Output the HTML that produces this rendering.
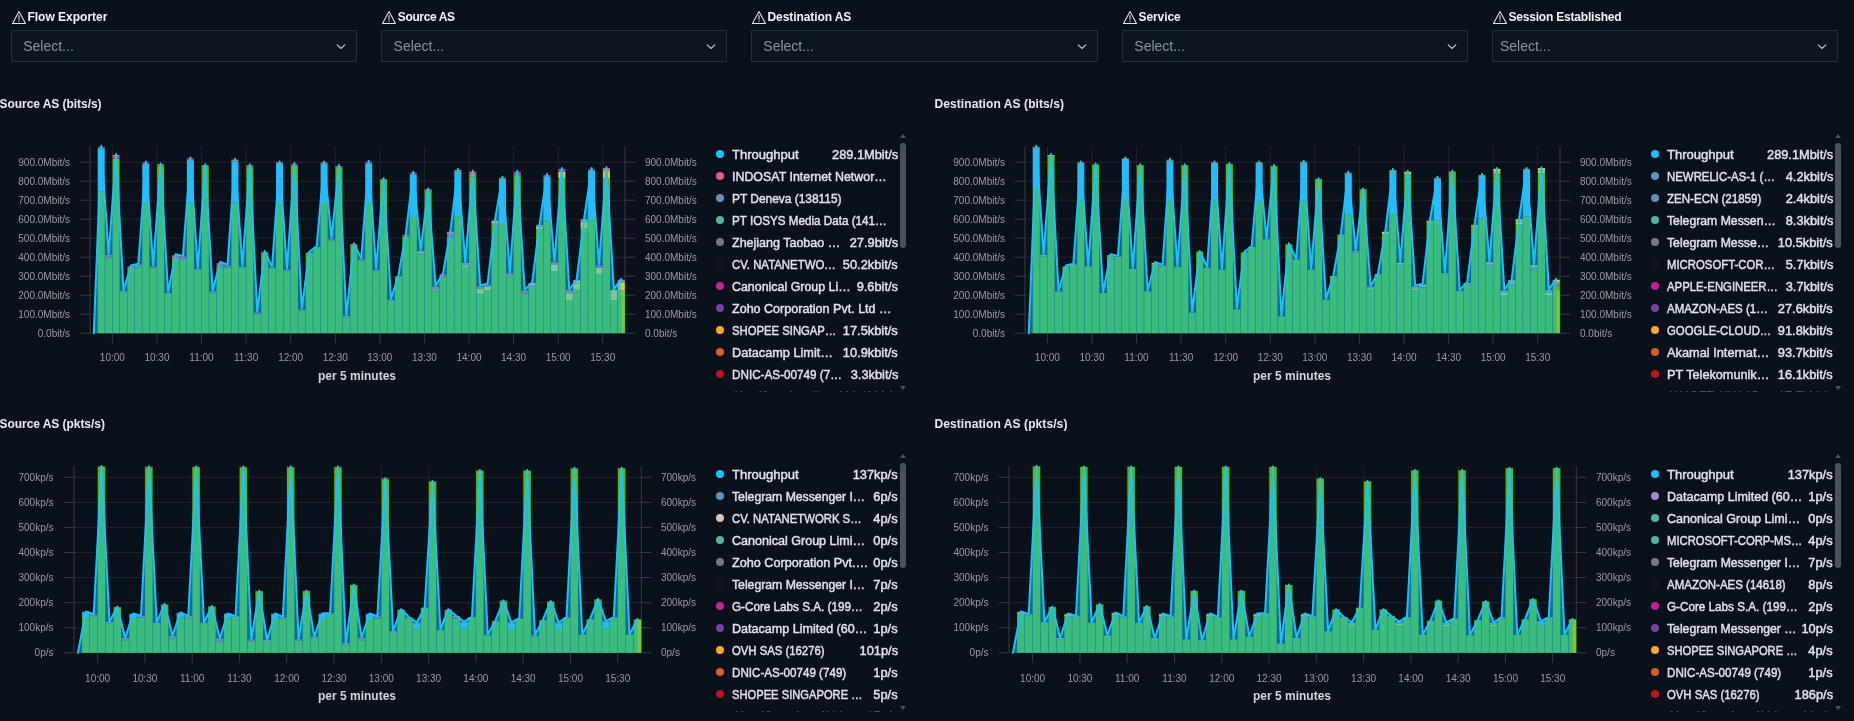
<!DOCTYPE html>
<html><head><meta charset="utf-8"><title>Dashboard</title>
<style>
html,body{margin:0;padding:0;background:#0b111a;}
body{width:1854px;height:721px;overflow:hidden;position:relative;font-family:"Liberation Sans",sans-serif;}
#wrap{position:absolute;left:0;top:0;width:1854px;height:721px;will-change:transform;}
svg.main{position:absolute;left:0;top:0;}
.ax{font-family:"Liberation Sans",sans-serif;font-size:10px;fill:#999da3;}
.xt{font-family:"Liberation Sans",sans-serif;font-size:12px;font-weight:bold;fill:#d2d6dc;}
.pt{position:absolute;font-size:12px;font-weight:bold;color:#e6ebf2;white-space:nowrap;line-height:14px;}
.ctl{position:absolute;top:0;width:346px;height:64px;}
.wi{position:absolute;left:0;top:9.5px;}
.cl{position:absolute;left:16.5px;top:10px;font-size:12px;font-weight:bold;color:#f2f5f9;white-space:nowrap;line-height:14px;}
.sel{position:absolute;left:0;top:30px;width:343.3px;height:30px;border:1px solid #27313c;background:#0d151e;border-radius:1px;}
.sel span{position:absolute;left:11.3px;top:7px;font-size:14px;line-height:16px;color:#8a95a3;}
.sel svg{position:absolute;right:9px;top:11.6px;}
.lg{position:absolute;width:194px;height:252.7px;overflow:hidden;}
.lr{position:absolute;left:0;width:194px;height:22px;line-height:22px;font-size:13px;color:#dfe4ec;white-space:nowrap;-webkit-text-stroke:0.45px #dfe4ec;}
.lr i{position:absolute;left:11px;top:6.5px;width:8px;height:8px;border-radius:50%;}
.lr .ll{position:absolute;left:27.4px;top:0;transform-origin:0 50%;display:inline-block;}
.lr .lv{position:absolute;right:1px;top:0;transform:scaleX(0.985);transform-origin:100% 50%;}
.sbt{position:absolute;width:5.5px;height:105px;border-radius:3px;background:#4b525b;}
.sau{position:absolute;width:0;height:0;border-left:3.5px solid transparent;border-right:3.5px solid transparent;border-bottom:4px solid #4d545e;}
.sad{position:absolute;width:0;height:0;border-left:3.5px solid transparent;border-right:3.5px solid transparent;border-top:4px solid #4d545e;}
</style></head><body><div id="wrap">
<div class="ctl" style="left:10.9px">
<svg class="wi" width="16" height="16" viewBox="0 0 16 16"><path d="M8 1.6 L14.5 13.4 H1.5 Z" fill="none" stroke="#e4e8ee" stroke-width="1.05" stroke-linejoin="round"/><rect x="7.3" y="5.2" width="1.4" height="4.6" fill="#aab2bd"/><rect x="7.3" y="10.6" width="1.4" height="1.3" fill="#aab2bd"/></svg>
<div class="cl" style="letter-spacing:0px">Flow Exporter</div>
<div class="sel" style="width:344.3px"><span style="left:11.3px">Select...</span><svg width="12" height="8" viewBox="0 0 12 8"><path d="M1.9 1.6 L6 5.4 L10.1 1.6" fill="none" stroke="#c9d0da" stroke-width="1.15"/></svg></div>
</div><div class="ctl" style="left:381.3px">
<svg class="wi" width="16" height="16" viewBox="0 0 16 16"><path d="M8 1.6 L14.5 13.4 H1.5 Z" fill="none" stroke="#e4e8ee" stroke-width="1.05" stroke-linejoin="round"/><rect x="7.3" y="5.2" width="1.4" height="4.6" fill="#aab2bd"/><rect x="7.3" y="10.6" width="1.4" height="1.3" fill="#aab2bd"/></svg>
<div class="cl" style="letter-spacing:-0.37px">Source AS</div>
<div class="sel" style="width:343.7px"><span style="left:11.3px">Select...</span><svg width="12" height="8" viewBox="0 0 12 8"><path d="M1.9 1.6 L6 5.4 L10.1 1.6" fill="none" stroke="#c9d0da" stroke-width="1.15"/></svg></div>
</div><div class="ctl" style="left:751px">
<svg class="wi" width="16" height="16" viewBox="0 0 16 16"><path d="M8 1.6 L14.5 13.4 H1.5 Z" fill="none" stroke="#e4e8ee" stroke-width="1.05" stroke-linejoin="round"/><rect x="7.3" y="5.2" width="1.4" height="4.6" fill="#aab2bd"/><rect x="7.3" y="10.6" width="1.4" height="1.3" fill="#aab2bd"/></svg>
<div class="cl" style="letter-spacing:-0.08px">Destination AS</div>
<div class="sel" style="width:345.2px"><span style="left:11.3px">Select...</span><svg width="12" height="8" viewBox="0 0 12 8"><path d="M1.9 1.6 L6 5.4 L10.1 1.6" fill="none" stroke="#c9d0da" stroke-width="1.15"/></svg></div>
</div><div class="ctl" style="left:1122px">
<svg class="wi" width="16" height="16" viewBox="0 0 16 16"><path d="M8 1.6 L14.5 13.4 H1.5 Z" fill="none" stroke="#e4e8ee" stroke-width="1.05" stroke-linejoin="round"/><rect x="7.3" y="5.2" width="1.4" height="4.6" fill="#aab2bd"/><rect x="7.3" y="10.6" width="1.4" height="1.3" fill="#aab2bd"/></svg>
<div class="cl" style="letter-spacing:-0.08px">Service</div>
<div class="sel" style="width:343.7px"><span style="left:11.3px">Select...</span><svg width="12" height="8" viewBox="0 0 12 8"><path d="M1.9 1.6 L6 5.4 L10.1 1.6" fill="none" stroke="#c9d0da" stroke-width="1.15"/></svg></div>
</div><div class="ctl" style="left:1492px">
<svg class="wi" width="16" height="16" viewBox="0 0 16 16"><path d="M8 1.6 L14.5 13.4 H1.5 Z" fill="none" stroke="#e4e8ee" stroke-width="1.05" stroke-linejoin="round"/><rect x="7.3" y="5.2" width="1.4" height="4.6" fill="#aab2bd"/><rect x="7.3" y="10.6" width="1.4" height="1.3" fill="#aab2bd"/></svg>
<div class="cl" style="letter-spacing:-0.2px">Session Established</div>
<div class="sel" style="width:344.0px"><span style="left:7.0px">Select...</span><svg width="12" height="8" viewBox="0 0 12 8"><path d="M1.9 1.6 L6 5.4 L10.1 1.6" fill="none" stroke="#c9d0da" stroke-width="1.15"/></svg></div>
</div>
<div class="pt" style="left:-0.5px;top:97px;letter-spacing:-0.05px">Source AS (bits/s)</div>
<div class="pt" style="left:934.5px;top:97px;letter-spacing:0.09px">Destination AS (bits/s)</div>
<div class="pt" style="left:-0.5px;top:417px;letter-spacing:-0.05px">Source AS (pkts/s)</div>
<div class="pt" style="left:934.5px;top:417px;letter-spacing:0.09px">Destination AS (pkts/s)</div>
<svg class="main" width="1854" height="721" viewBox="0 0 1854 721">
<line x1="90" x2="625" y1="333.2" y2="333.2" stroke="#20252c" stroke-width="1"/>
<line x1="80" x2="90" y1="333.2" y2="333.2" stroke="#383c42" stroke-width="1"/>
<line x1="625" x2="635" y1="333.2" y2="333.2" stroke="#383c42" stroke-width="1"/>
<text x="70" y="336.7" text-anchor="end" class="ax">0.0bit/s</text>
<text x="645" y="336.7" class="ax">0.0bit/s</text>
<line x1="90" x2="625" y1="314.2" y2="314.2" stroke="#20252c" stroke-width="1"/>
<line x1="80" x2="90" y1="314.2" y2="314.2" stroke="#383c42" stroke-width="1"/>
<line x1="625" x2="635" y1="314.2" y2="314.2" stroke="#383c42" stroke-width="1"/>
<text x="70" y="317.7" text-anchor="end" class="ax">100.0Mbit/s</text>
<text x="645" y="317.7" class="ax">100.0Mbit/s</text>
<line x1="90" x2="625" y1="295.2" y2="295.2" stroke="#20252c" stroke-width="1"/>
<line x1="80" x2="90" y1="295.2" y2="295.2" stroke="#383c42" stroke-width="1"/>
<line x1="625" x2="635" y1="295.2" y2="295.2" stroke="#383c42" stroke-width="1"/>
<text x="70" y="298.7" text-anchor="end" class="ax">200.0Mbit/s</text>
<text x="645" y="298.7" class="ax">200.0Mbit/s</text>
<line x1="90" x2="625" y1="276.2" y2="276.2" stroke="#20252c" stroke-width="1"/>
<line x1="80" x2="90" y1="276.2" y2="276.2" stroke="#383c42" stroke-width="1"/>
<line x1="625" x2="635" y1="276.2" y2="276.2" stroke="#383c42" stroke-width="1"/>
<text x="70" y="279.7" text-anchor="end" class="ax">300.0Mbit/s</text>
<text x="645" y="279.7" class="ax">300.0Mbit/s</text>
<line x1="90" x2="625" y1="257.2" y2="257.2" stroke="#20252c" stroke-width="1"/>
<line x1="80" x2="90" y1="257.2" y2="257.2" stroke="#383c42" stroke-width="1"/>
<line x1="625" x2="635" y1="257.2" y2="257.2" stroke="#383c42" stroke-width="1"/>
<text x="70" y="260.7" text-anchor="end" class="ax">400.0Mbit/s</text>
<text x="645" y="260.7" class="ax">400.0Mbit/s</text>
<line x1="90" x2="625" y1="238.2" y2="238.2" stroke="#20252c" stroke-width="1"/>
<line x1="80" x2="90" y1="238.2" y2="238.2" stroke="#383c42" stroke-width="1"/>
<line x1="625" x2="635" y1="238.2" y2="238.2" stroke="#383c42" stroke-width="1"/>
<text x="70" y="241.7" text-anchor="end" class="ax">500.0Mbit/s</text>
<text x="645" y="241.7" class="ax">500.0Mbit/s</text>
<line x1="90" x2="625" y1="219.2" y2="219.2" stroke="#20252c" stroke-width="1"/>
<line x1="80" x2="90" y1="219.2" y2="219.2" stroke="#383c42" stroke-width="1"/>
<line x1="625" x2="635" y1="219.2" y2="219.2" stroke="#383c42" stroke-width="1"/>
<text x="70" y="222.7" text-anchor="end" class="ax">600.0Mbit/s</text>
<text x="645" y="222.7" class="ax">600.0Mbit/s</text>
<line x1="90" x2="625" y1="200.2" y2="200.2" stroke="#20252c" stroke-width="1"/>
<line x1="80" x2="90" y1="200.2" y2="200.2" stroke="#383c42" stroke-width="1"/>
<line x1="625" x2="635" y1="200.2" y2="200.2" stroke="#383c42" stroke-width="1"/>
<text x="70" y="203.7" text-anchor="end" class="ax">700.0Mbit/s</text>
<text x="645" y="203.7" class="ax">700.0Mbit/s</text>
<line x1="90" x2="625" y1="181.2" y2="181.2" stroke="#20252c" stroke-width="1"/>
<line x1="80" x2="90" y1="181.2" y2="181.2" stroke="#383c42" stroke-width="1"/>
<line x1="625" x2="635" y1="181.2" y2="181.2" stroke="#383c42" stroke-width="1"/>
<text x="70" y="184.7" text-anchor="end" class="ax">800.0Mbit/s</text>
<text x="645" y="184.7" class="ax">800.0Mbit/s</text>
<line x1="90" x2="625" y1="162.2" y2="162.2" stroke="#20252c" stroke-width="1"/>
<line x1="80" x2="90" y1="162.2" y2="162.2" stroke="#383c42" stroke-width="1"/>
<line x1="625" x2="635" y1="162.2" y2="162.2" stroke="#383c42" stroke-width="1"/>
<text x="70" y="165.7" text-anchor="end" class="ax">900.0Mbit/s</text>
<text x="645" y="165.7" class="ax">900.0Mbit/s</text>
<line x1="112.36" x2="112.36" y1="146.5" y2="333.2" stroke="#20252c" stroke-width="1"/>
<line x1="112.36" x2="112.36" y1="333.2" y2="343.2" stroke="#383c42" stroke-width="1"/>
<text x="112.36" y="361.3" text-anchor="middle" class="ax">10:00</text>
<line x1="156.94" x2="156.94" y1="146.5" y2="333.2" stroke="#20252c" stroke-width="1"/>
<line x1="156.94" x2="156.94" y1="333.2" y2="343.2" stroke="#383c42" stroke-width="1"/>
<text x="156.94" y="361.3" text-anchor="middle" class="ax">10:30</text>
<line x1="201.52" x2="201.52" y1="146.5" y2="333.2" stroke="#20252c" stroke-width="1"/>
<line x1="201.52" x2="201.52" y1="333.2" y2="343.2" stroke="#383c42" stroke-width="1"/>
<text x="201.52" y="361.3" text-anchor="middle" class="ax">11:00</text>
<line x1="246.1" x2="246.1" y1="146.5" y2="333.2" stroke="#20252c" stroke-width="1"/>
<line x1="246.1" x2="246.1" y1="333.2" y2="343.2" stroke="#383c42" stroke-width="1"/>
<text x="246.1" y="361.3" text-anchor="middle" class="ax">11:30</text>
<line x1="290.68" x2="290.68" y1="146.5" y2="333.2" stroke="#20252c" stroke-width="1"/>
<line x1="290.68" x2="290.68" y1="333.2" y2="343.2" stroke="#383c42" stroke-width="1"/>
<text x="290.68" y="361.3" text-anchor="middle" class="ax">12:00</text>
<line x1="335.26" x2="335.26" y1="146.5" y2="333.2" stroke="#20252c" stroke-width="1"/>
<line x1="335.26" x2="335.26" y1="333.2" y2="343.2" stroke="#383c42" stroke-width="1"/>
<text x="335.26" y="361.3" text-anchor="middle" class="ax">12:30</text>
<line x1="379.84" x2="379.84" y1="146.5" y2="333.2" stroke="#20252c" stroke-width="1"/>
<line x1="379.84" x2="379.84" y1="333.2" y2="343.2" stroke="#383c42" stroke-width="1"/>
<text x="379.84" y="361.3" text-anchor="middle" class="ax">13:00</text>
<line x1="424.42" x2="424.42" y1="146.5" y2="333.2" stroke="#20252c" stroke-width="1"/>
<line x1="424.42" x2="424.42" y1="333.2" y2="343.2" stroke="#383c42" stroke-width="1"/>
<text x="424.42" y="361.3" text-anchor="middle" class="ax">13:30</text>
<line x1="469" x2="469" y1="146.5" y2="333.2" stroke="#20252c" stroke-width="1"/>
<line x1="469" x2="469" y1="333.2" y2="343.2" stroke="#383c42" stroke-width="1"/>
<text x="469" y="361.3" text-anchor="middle" class="ax">14:00</text>
<line x1="513.58" x2="513.58" y1="146.5" y2="333.2" stroke="#20252c" stroke-width="1"/>
<line x1="513.58" x2="513.58" y1="333.2" y2="343.2" stroke="#383c42" stroke-width="1"/>
<text x="513.58" y="361.3" text-anchor="middle" class="ax">14:30</text>
<line x1="558.16" x2="558.16" y1="146.5" y2="333.2" stroke="#20252c" stroke-width="1"/>
<line x1="558.16" x2="558.16" y1="333.2" y2="343.2" stroke="#383c42" stroke-width="1"/>
<text x="558.16" y="361.3" text-anchor="middle" class="ax">15:00</text>
<line x1="602.74" x2="602.74" y1="146.5" y2="333.2" stroke="#20252c" stroke-width="1"/>
<line x1="602.74" x2="602.74" y1="333.2" y2="343.2" stroke="#383c42" stroke-width="1"/>
<text x="602.74" y="361.3" text-anchor="middle" class="ax">15:30</text>
<line x1="90" x2="90" y1="146.5" y2="333.2" stroke="#383c42" stroke-width="1"/>
<line x1="625" x2="625" y1="146.5" y2="333.2" stroke="#383c42" stroke-width="1"/>
<rect x="97.7" y="191.27" width="7.03" height="141.93" fill="#5fb900"/>
<rect x="97.7" y="148.52" width="7.03" height="42.75" fill="#35b4f0"/>
<rect x="97.7" y="147.66" width="7.03" height="0.85" fill="#8a8f98"/>
<rect x="97.7" y="146.81" width="7.03" height="0.85" fill="#d9602a"/>
<rect x="105.13" y="258.53" width="7.03" height="74.67" fill="#5fb900"/>
<rect x="105.13" y="256.73" width="7.03" height="1.8" fill="#d9602a"/>
<rect x="105.13" y="254.92" width="7.03" height="1.8" fill="#b03fb0"/>
<rect x="112.56" y="158.78" width="7.03" height="174.42" fill="#5fb900"/>
<rect x="112.56" y="156.88" width="7.03" height="1.9" fill="#b03fb0"/>
<rect x="112.56" y="154.98" width="7.03" height="1.9" fill="#e4607f"/>
<rect x="119.99" y="292.73" width="7.03" height="40.47" fill="#5fb900"/>
<rect x="119.99" y="292.06" width="7.03" height="0.67" fill="#e4607f"/>
<rect x="119.99" y="291.4" width="7.03" height="0.67" fill="#c9cf3a"/>
<rect x="127.42" y="268.22" width="7.03" height="64.98" fill="#5fb900"/>
<rect x="127.42" y="267.37" width="7.03" height="0.85" fill="#c9cf3a"/>
<rect x="127.42" y="266.51" width="7.03" height="0.85" fill="#8a8f98"/>
<rect x="134.85" y="267.65" width="7.03" height="65.55" fill="#5fb900"/>
<rect x="134.85" y="266.13" width="7.03" height="1.52" fill="#8a8f98"/>
<rect x="134.85" y="264.61" width="7.03" height="1.52" fill="#d9602a"/>
<rect x="142.28" y="203.05" width="7.03" height="130.15" fill="#5fb900"/>
<rect x="142.28" y="164.1" width="7.03" height="38.95" fill="#35b4f0"/>
<rect x="142.28" y="163.24" width="7.03" height="0.85" fill="#d9602a"/>
<rect x="142.28" y="162.39" width="7.03" height="0.85" fill="#b03fb0"/>
<rect x="149.71" y="267.65" width="7.03" height="65.55" fill="#5fb900"/>
<rect x="149.71" y="267.08" width="7.03" height="0.57" fill="#b03fb0"/>
<rect x="149.71" y="266.51" width="7.03" height="0.57" fill="#e4607f"/>
<rect x="157.14" y="166.19" width="7.03" height="167.01" fill="#5fb900"/>
<rect x="157.14" y="165.33" width="7.03" height="0.85" fill="#e4607f"/>
<rect x="157.14" y="164.48" width="7.03" height="0.85" fill="#c9cf3a"/>
<rect x="164.57" y="294.63" width="7.03" height="38.57" fill="#5fb900"/>
<rect x="164.57" y="293.77" width="7.03" height="0.85" fill="#c9cf3a"/>
<rect x="164.57" y="292.92" width="7.03" height="0.85" fill="#8a8f98"/>
<rect x="172" y="260.05" width="7.03" height="73.15" fill="#5fb900"/>
<rect x="172" y="257.67" width="7.03" height="2.38" fill="#8a8f98"/>
<rect x="172" y="255.3" width="7.03" height="2.38" fill="#d9602a"/>
<rect x="179.43" y="260.05" width="7.03" height="73.15" fill="#5fb900"/>
<rect x="179.43" y="258.44" width="7.03" height="1.61" fill="#d9602a"/>
<rect x="179.43" y="256.82" width="7.03" height="1.61" fill="#b03fb0"/>
<rect x="186.86" y="202.29" width="7.03" height="130.91" fill="#5fb900"/>
<rect x="186.86" y="160.11" width="7.03" height="42.18" fill="#35b4f0"/>
<rect x="186.86" y="159.25" width="7.03" height="0.85" fill="#b03fb0"/>
<rect x="186.86" y="158.4" width="7.03" height="0.85" fill="#e4607f"/>
<rect x="194.29" y="269.74" width="7.03" height="63.46" fill="#5fb900"/>
<rect x="194.29" y="269.45" width="7.03" height="0.29" fill="#e4607f"/>
<rect x="194.29" y="269.17" width="7.03" height="0.29" fill="#c9cf3a"/>
<rect x="201.72" y="167.14" width="7.03" height="166.06" fill="#5fb900"/>
<rect x="201.72" y="166.19" width="7.03" height="0.95" fill="#c9cf3a"/>
<rect x="201.72" y="165.24" width="7.03" height="0.95" fill="#8a8f98"/>
<rect x="209.15" y="293.3" width="7.03" height="39.9" fill="#5fb900"/>
<rect x="209.15" y="292.35" width="7.03" height="0.95" fill="#8a8f98"/>
<rect x="209.15" y="291.4" width="7.03" height="0.95" fill="#d9602a"/>
<rect x="216.58" y="267.65" width="7.03" height="65.55" fill="#5fb900"/>
<rect x="216.58" y="265.27" width="7.03" height="2.38" fill="#d9602a"/>
<rect x="216.58" y="262.9" width="7.03" height="2.38" fill="#b03fb0"/>
<rect x="224.01" y="267.65" width="7.03" height="65.55" fill="#5fb900"/>
<rect x="224.01" y="266.7" width="7.03" height="0.95" fill="#b03fb0"/>
<rect x="224.01" y="265.75" width="7.03" height="0.95" fill="#e4607f"/>
<rect x="231.44" y="202.29" width="7.03" height="130.91" fill="#5fb900"/>
<rect x="231.44" y="161.44" width="7.03" height="40.85" fill="#35b4f0"/>
<rect x="231.44" y="160.58" width="7.03" height="0.85" fill="#e4607f"/>
<rect x="231.44" y="159.73" width="7.03" height="0.85" fill="#c9cf3a"/>
<rect x="238.87" y="268.22" width="7.03" height="64.98" fill="#5fb900"/>
<rect x="238.87" y="267.65" width="7.03" height="0.57" fill="#c9cf3a"/>
<rect x="238.87" y="267.08" width="7.03" height="0.57" fill="#8a8f98"/>
<rect x="246.3" y="167.14" width="7.03" height="166.06" fill="#5fb900"/>
<rect x="246.3" y="166.19" width="7.03" height="0.95" fill="#8a8f98"/>
<rect x="246.3" y="165.24" width="7.03" height="0.95" fill="#d9602a"/>
<rect x="253.73" y="314.2" width="7.03" height="19" fill="#5fb900"/>
<rect x="253.73" y="313.44" width="7.03" height="0.76" fill="#d9602a"/>
<rect x="253.73" y="312.68" width="7.03" height="0.76" fill="#b03fb0"/>
<rect x="261.16" y="252.26" width="7.03" height="80.94" fill="#5fb900"/>
<rect x="261.16" y="252.07" width="7.03" height="0.19" fill="#b03fb0"/>
<rect x="261.16" y="251.88" width="7.03" height="0.19" fill="#e4607f"/>
<rect x="268.59" y="268.79" width="7.03" height="64.41" fill="#5fb900"/>
<rect x="268.59" y="268.31" width="7.03" height="0.47" fill="#e4607f"/>
<rect x="268.59" y="267.84" width="7.03" height="0.47" fill="#c9cf3a"/>
<rect x="276.02" y="203.05" width="7.03" height="130.15" fill="#5fb900"/>
<rect x="276.02" y="164.1" width="7.03" height="38.95" fill="#35b4f0"/>
<rect x="276.02" y="163.24" width="7.03" height="0.85" fill="#c9cf3a"/>
<rect x="276.02" y="162.39" width="7.03" height="0.85" fill="#8a8f98"/>
<rect x="283.45" y="271.07" width="7.03" height="62.13" fill="#5fb900"/>
<rect x="283.45" y="270.4" width="7.03" height="0.67" fill="#8a8f98"/>
<rect x="283.45" y="269.74" width="7.03" height="0.67" fill="#d9602a"/>
<rect x="290.88" y="165.62" width="7.03" height="167.58" fill="#5fb900"/>
<rect x="290.88" y="164.76" width="7.03" height="0.85" fill="#d9602a"/>
<rect x="290.88" y="163.91" width="7.03" height="0.85" fill="#b03fb0"/>
<rect x="298.31" y="310.4" width="7.03" height="22.8" fill="#5fb900"/>
<rect x="298.31" y="309.93" width="7.03" height="0.47" fill="#b03fb0"/>
<rect x="298.31" y="309.45" width="7.03" height="0.47" fill="#e4607f"/>
<rect x="305.74" y="253.02" width="7.03" height="80.18" fill="#5fb900"/>
<rect x="305.74" y="252.83" width="7.03" height="0.19" fill="#e4607f"/>
<rect x="305.74" y="252.64" width="7.03" height="0.19" fill="#c9cf3a"/>
<rect x="313.17" y="247.51" width="7.03" height="85.69" fill="#5fb900"/>
<rect x="313.17" y="247.32" width="7.03" height="0.19" fill="#c9cf3a"/>
<rect x="313.17" y="247.13" width="7.03" height="0.19" fill="#8a8f98"/>
<rect x="320.6" y="203.05" width="7.03" height="130.15" fill="#5fb900"/>
<rect x="320.6" y="164.1" width="7.03" height="38.95" fill="#35b4f0"/>
<rect x="320.6" y="163.24" width="7.03" height="0.85" fill="#8a8f98"/>
<rect x="320.6" y="162.39" width="7.03" height="0.85" fill="#d9602a"/>
<rect x="328.03" y="241.05" width="7.03" height="92.15" fill="#5fb900"/>
<rect x="328.03" y="240.19" width="7.03" height="0.85" fill="#d9602a"/>
<rect x="328.03" y="239.34" width="7.03" height="0.85" fill="#b03fb0"/>
<rect x="335.46" y="167.14" width="7.03" height="166.06" fill="#5fb900"/>
<rect x="335.46" y="166.57" width="7.03" height="0.57" fill="#b03fb0"/>
<rect x="335.46" y="166" width="7.03" height="0.57" fill="#e4607f"/>
<rect x="342.89" y="318.19" width="7.03" height="15.01" fill="#5fb900"/>
<rect x="342.89" y="317.33" width="7.03" height="0.85" fill="#e4607f"/>
<rect x="342.89" y="316.48" width="7.03" height="0.85" fill="#c9cf3a"/>
<rect x="350.32" y="245.61" width="7.03" height="87.59" fill="#5fb900"/>
<rect x="350.32" y="244.94" width="7.03" height="0.67" fill="#c9cf3a"/>
<rect x="350.32" y="244.28" width="7.03" height="0.67" fill="#8a8f98"/>
<rect x="357.75" y="260.62" width="7.03" height="72.58" fill="#5fb900"/>
<rect x="357.75" y="260.05" width="7.03" height="0.57" fill="#8a8f98"/>
<rect x="357.75" y="259.48" width="7.03" height="0.57" fill="#d9602a"/>
<rect x="365.18" y="203.05" width="7.03" height="130.15" fill="#5fb900"/>
<rect x="365.18" y="163.34" width="7.03" height="39.71" fill="#35b4f0"/>
<rect x="365.18" y="162.48" width="7.03" height="0.85" fill="#d9602a"/>
<rect x="365.18" y="161.63" width="7.03" height="0.85" fill="#b03fb0"/>
<rect x="372.61" y="271.07" width="7.03" height="62.13" fill="#5fb900"/>
<rect x="372.61" y="270.4" width="7.03" height="0.67" fill="#b03fb0"/>
<rect x="372.61" y="269.74" width="7.03" height="0.67" fill="#e4607f"/>
<rect x="380.04" y="179.49" width="7.03" height="153.71" fill="#5fb900"/>
<rect x="380.04" y="179.3" width="7.03" height="0.19" fill="#e4607f"/>
<rect x="380.04" y="179.11" width="7.03" height="0.19" fill="#c9cf3a"/>
<rect x="387.47" y="301.66" width="7.03" height="31.54" fill="#5fb900"/>
<rect x="387.47" y="300.71" width="7.03" height="0.95" fill="#c9cf3a"/>
<rect x="387.47" y="299.76" width="7.03" height="0.95" fill="#8a8f98"/>
<rect x="394.9" y="276.58" width="7.03" height="56.62" fill="#5fb900"/>
<rect x="394.9" y="276.39" width="7.03" height="0.19" fill="#8a8f98"/>
<rect x="394.9" y="276.2" width="7.03" height="0.19" fill="#d9602a"/>
<rect x="402.33" y="236.49" width="7.03" height="96.71" fill="#5fb900"/>
<rect x="402.33" y="235.54" width="7.03" height="0.95" fill="#d9602a"/>
<rect x="402.33" y="234.59" width="7.03" height="0.95" fill="#b03fb0"/>
<rect x="409.76" y="216.92" width="7.03" height="116.28" fill="#5fb900"/>
<rect x="409.76" y="174.36" width="7.03" height="42.56" fill="#35b4f0"/>
<rect x="409.76" y="173.5" width="7.03" height="0.85" fill="#b03fb0"/>
<rect x="409.76" y="172.65" width="7.03" height="0.85" fill="#e4607f"/>
<rect x="417.19" y="254.35" width="7.03" height="78.85" fill="#5fb900"/>
<rect x="417.19" y="252.83" width="7.03" height="1.52" fill="#e4607f"/>
<rect x="417.19" y="251.31" width="7.03" height="1.52" fill="#c9cf3a"/>
<rect x="424.62" y="191.46" width="7.03" height="141.74" fill="#5fb900"/>
<rect x="424.62" y="190.41" width="7.03" height="1.04" fill="#c9cf3a"/>
<rect x="424.62" y="189.37" width="7.03" height="1.04" fill="#8a8f98"/>
<rect x="432.05" y="291.4" width="7.03" height="41.8" fill="#5fb900"/>
<rect x="432.05" y="289.02" width="7.03" height="2.38" fill="#8a8f98"/>
<rect x="432.05" y="286.65" width="7.03" height="2.38" fill="#d9602a"/>
<rect x="439.48" y="278.1" width="7.03" height="55.1" fill="#5fb900"/>
<rect x="439.48" y="276.2" width="7.03" height="1.9" fill="#d9602a"/>
<rect x="439.48" y="274.3" width="7.03" height="1.9" fill="#b03fb0"/>
<rect x="446.91" y="237.25" width="7.03" height="95.95" fill="#5fb900"/>
<rect x="446.91" y="234.5" width="7.03" height="2.75" fill="#b03fb0"/>
<rect x="446.91" y="231.74" width="7.03" height="2.75" fill="#e4607f"/>
<rect x="454.34" y="216.16" width="7.03" height="117.04" fill="#5fb900"/>
<rect x="454.34" y="171.7" width="7.03" height="44.46" fill="#35b4f0"/>
<rect x="454.34" y="170.84" width="7.03" height="0.85" fill="#e4607f"/>
<rect x="454.34" y="169.99" width="7.03" height="0.85" fill="#c9cf3a"/>
<rect x="461.77" y="267.65" width="7.03" height="65.55" fill="#5fb900"/>
<rect x="461.77" y="265.27" width="7.03" height="2.38" fill="#c9cf3a"/>
<rect x="461.77" y="262.9" width="7.03" height="2.38" fill="#8a8f98"/>
<rect x="469.2" y="176.83" width="7.03" height="156.37" fill="#5fb900"/>
<rect x="469.2" y="174.26" width="7.03" height="2.56" fill="#8a8f98"/>
<rect x="469.2" y="171.7" width="7.03" height="2.56" fill="#d9602a"/>
<rect x="476.63" y="293.87" width="7.03" height="39.33" fill="#5fb900"/>
<rect x="476.63" y="288.68" width="7.03" height="5.19" fill="#e3cc2c"/>
<rect x="476.63" y="286.46" width="7.03" height="2.22" fill="#d9602a"/>
<rect x="484.06" y="290.45" width="7.03" height="42.75" fill="#5fb900"/>
<rect x="484.06" y="286.33" width="7.03" height="4.12" fill="#e3cc2c"/>
<rect x="484.06" y="284.56" width="7.03" height="1.77" fill="#b03fb0"/>
<rect x="491.49" y="225.28" width="7.03" height="107.92" fill="#5fb900"/>
<rect x="491.49" y="223" width="7.03" height="2.28" fill="#e4607f"/>
<rect x="491.49" y="220.72" width="7.03" height="2.28" fill="#c9cf3a"/>
<rect x="498.92" y="223" width="7.03" height="110.2" fill="#5fb900"/>
<rect x="498.92" y="179.49" width="7.03" height="43.51" fill="#35b4f0"/>
<rect x="498.92" y="178.63" width="7.03" height="0.85" fill="#c9cf3a"/>
<rect x="498.92" y="177.78" width="7.03" height="0.85" fill="#8a8f98"/>
<rect x="506.35" y="276.58" width="7.03" height="56.62" fill="#5fb900"/>
<rect x="506.35" y="274.96" width="7.03" height="1.61" fill="#8a8f98"/>
<rect x="506.35" y="273.35" width="7.03" height="1.61" fill="#d9602a"/>
<rect x="513.78" y="175.31" width="7.03" height="157.89" fill="#5fb900"/>
<rect x="513.78" y="173.5" width="7.03" height="1.8" fill="#d9602a"/>
<rect x="513.78" y="171.7" width="7.03" height="1.8" fill="#b03fb0"/>
<rect x="521.21" y="293.87" width="7.03" height="39.33" fill="#5fb900"/>
<rect x="521.21" y="292.35" width="7.03" height="1.52" fill="#b03fb0"/>
<rect x="521.21" y="290.83" width="7.03" height="1.52" fill="#e4607f"/>
<rect x="528.64" y="286.84" width="7.03" height="46.36" fill="#5fb900"/>
<rect x="528.64" y="284.94" width="7.03" height="1.9" fill="#e4607f"/>
<rect x="528.64" y="283.04" width="7.03" height="1.9" fill="#c9cf3a"/>
<rect x="536.07" y="228.89" width="7.03" height="104.31" fill="#5fb900"/>
<rect x="536.07" y="226.89" width="7.03" height="2" fill="#c9cf3a"/>
<rect x="536.07" y="224.9" width="7.03" height="2" fill="#8a8f98"/>
<rect x="543.5" y="220.53" width="7.03" height="112.67" fill="#5fb900"/>
<rect x="543.5" y="176.64" width="7.03" height="43.89" fill="#35b4f0"/>
<rect x="543.5" y="175.78" width="7.03" height="0.85" fill="#8a8f98"/>
<rect x="543.5" y="174.93" width="7.03" height="0.85" fill="#d9602a"/>
<rect x="550.93" y="271.07" width="7.03" height="62.13" fill="#5fb900"/>
<rect x="550.93" y="264.95" width="7.03" height="6.12" fill="#e3cc2c"/>
<rect x="550.93" y="262.33" width="7.03" height="2.62" fill="#d9602a"/>
<rect x="558.36" y="178.16" width="7.03" height="155.04" fill="#5fb900"/>
<rect x="558.36" y="171.64" width="7.03" height="6.52" fill="#e3cc2c"/>
<rect x="558.36" y="168.85" width="7.03" height="2.79" fill="#b03fb0"/>
<rect x="565.79" y="300.14" width="7.03" height="33.06" fill="#5fb900"/>
<rect x="565.79" y="293.36" width="7.03" height="6.78" fill="#e3cc2c"/>
<rect x="565.79" y="290.45" width="7.03" height="2.91" fill="#e4607f"/>
<rect x="573.22" y="289.88" width="7.03" height="43.32" fill="#5fb900"/>
<rect x="573.22" y="283.23" width="7.03" height="6.65" fill="#e3cc2c"/>
<rect x="573.22" y="280.38" width="7.03" height="2.85" fill="#c9cf3a"/>
<rect x="580.65" y="228.7" width="7.03" height="104.5" fill="#5fb900"/>
<rect x="580.65" y="222.05" width="7.03" height="6.65" fill="#e3cc2c"/>
<rect x="580.65" y="219.2" width="7.03" height="2.85" fill="#8a8f98"/>
<rect x="588.08" y="219.01" width="7.03" height="114.19" fill="#5fb900"/>
<rect x="588.08" y="170.56" width="7.03" height="48.45" fill="#35b4f0"/>
<rect x="588.08" y="169.7" width="7.03" height="0.85" fill="#d9602a"/>
<rect x="588.08" y="168.85" width="7.03" height="0.85" fill="#b03fb0"/>
<rect x="595.51" y="273.92" width="7.03" height="59.28" fill="#5fb900"/>
<rect x="595.51" y="267.8" width="7.03" height="6.12" fill="#e3cc2c"/>
<rect x="595.51" y="265.18" width="7.03" height="2.62" fill="#b03fb0"/>
<rect x="602.94" y="178.16" width="7.03" height="155.04" fill="#5fb900"/>
<rect x="602.94" y="171.11" width="7.03" height="7.05" fill="#e3cc2c"/>
<rect x="602.94" y="168.09" width="7.03" height="3.02" fill="#e4607f"/>
<rect x="610.37" y="300.14" width="7.03" height="33.06" fill="#5fb900"/>
<rect x="610.37" y="293.09" width="7.03" height="7.05" fill="#e3cc2c"/>
<rect x="610.37" y="290.07" width="7.03" height="3.02" fill="#c9cf3a"/>
<rect x="617.8" y="290.45" width="7.03" height="42.75" fill="#5fb900"/>
<rect x="617.8" y="283" width="7.03" height="7.45" fill="#e3cc2c"/>
<rect x="617.8" y="279.81" width="7.03" height="3.19" fill="#8a8f98"/>
<polygon points="93.78,333.2 93.78,333.2 101.21,145.86 108.64,253.97 116.07,154.03 123.5,290.45 130.94,265.56 138.37,263.66 145.79,161.44 153.22,265.56 160.65,163.53 168.08,291.97 175.51,254.35 182.94,255.87 190.38,157.45 197.81,268.22 205.23,164.29 212.66,290.45 220.09,261.95 227.52,264.8 234.95,158.78 242.38,266.13 249.81,164.29 257.25,311.73 264.67,250.93 272.11,266.89 279.53,161.44 286.96,268.79 294.39,162.96 301.82,308.5 309.25,251.69 316.68,246.18 324.12,161.44 331.54,238.39 338.98,165.05 346.4,315.53 353.83,243.33 361.26,258.53 368.69,160.68 376.12,268.79 383.56,178.16 390.98,298.81 398.41,275.25 405.84,233.64 413.27,171.7 420.7,250.36 428.13,188.42 435.56,285.7 443,273.35 450.42,230.79 457.85,169.04 465.28,261.95 472.71,170.75 480.14,285.51 487.57,283.61 495,219.77 502.44,176.83 509.86,272.4 517.29,170.75 524.72,289.88 532.15,282.09 539.59,223.95 547.01,173.98 554.44,261.38 561.88,167.9 569.3,289.5 576.73,279.43 584.16,218.25 591.6,167.9 599.02,264.23 606.45,167.14 613.88,289.12 621.32,278.86 621.32,333.2" fill="#19c2ff" fill-opacity="0.5"/>
<polyline points="93.78,333.2 101.21,145.86 108.64,253.97 116.07,154.03 123.5,290.45 130.94,265.56 138.37,263.66 145.79,161.44 153.22,265.56 160.65,163.53 168.08,291.97 175.51,254.35 182.94,255.87 190.38,157.45 197.81,268.22 205.23,164.29 212.66,290.45 220.09,261.95 227.52,264.8 234.95,158.78 242.38,266.13 249.81,164.29 257.25,311.73 264.67,250.93 272.11,266.89 279.53,161.44 286.96,268.79 294.39,162.96 301.82,308.5 309.25,251.69 316.68,246.18 324.12,161.44 331.54,238.39 338.98,165.05 346.4,315.53 353.83,243.33 361.26,258.53 368.69,160.68 376.12,268.79 383.56,178.16 390.98,298.81 398.41,275.25 405.84,233.64 413.27,171.7 420.7,250.36 428.13,188.42 435.56,285.7 443,273.35 450.42,230.79 457.85,169.04 465.28,261.95 472.71,170.75 480.14,285.51 487.57,283.61 495,219.77 502.44,176.83 509.86,272.4 517.29,170.75 524.72,289.88 532.15,282.09 539.59,223.95 547.01,173.98 554.44,261.38 561.88,167.9 569.3,289.5 576.73,279.43 584.16,218.25 591.6,167.9 599.02,264.23 606.45,167.14 613.88,289.12 621.32,278.86" fill="none" stroke="#19c2ff" stroke-width="2.0" stroke-linejoin="round" stroke-linecap="round"/>
<rect x="621.32" y="290.45" width="3.51" height="42.75" fill="#78c63a"/>
<text x="357" y="379.8" text-anchor="middle" class="xt">per 5 minutes</text>
<line x1="1025" x2="1560" y1="333.2" y2="333.2" stroke="#20252c" stroke-width="1"/>
<line x1="1015" x2="1025" y1="333.2" y2="333.2" stroke="#383c42" stroke-width="1"/>
<line x1="1560" x2="1570" y1="333.2" y2="333.2" stroke="#383c42" stroke-width="1"/>
<text x="1005" y="336.7" text-anchor="end" class="ax">0.0bit/s</text>
<text x="1580" y="336.7" class="ax">0.0bit/s</text>
<line x1="1025" x2="1560" y1="314.2" y2="314.2" stroke="#20252c" stroke-width="1"/>
<line x1="1015" x2="1025" y1="314.2" y2="314.2" stroke="#383c42" stroke-width="1"/>
<line x1="1560" x2="1570" y1="314.2" y2="314.2" stroke="#383c42" stroke-width="1"/>
<text x="1005" y="317.7" text-anchor="end" class="ax">100.0Mbit/s</text>
<text x="1580" y="317.7" class="ax">100.0Mbit/s</text>
<line x1="1025" x2="1560" y1="295.2" y2="295.2" stroke="#20252c" stroke-width="1"/>
<line x1="1015" x2="1025" y1="295.2" y2="295.2" stroke="#383c42" stroke-width="1"/>
<line x1="1560" x2="1570" y1="295.2" y2="295.2" stroke="#383c42" stroke-width="1"/>
<text x="1005" y="298.7" text-anchor="end" class="ax">200.0Mbit/s</text>
<text x="1580" y="298.7" class="ax">200.0Mbit/s</text>
<line x1="1025" x2="1560" y1="276.2" y2="276.2" stroke="#20252c" stroke-width="1"/>
<line x1="1015" x2="1025" y1="276.2" y2="276.2" stroke="#383c42" stroke-width="1"/>
<line x1="1560" x2="1570" y1="276.2" y2="276.2" stroke="#383c42" stroke-width="1"/>
<text x="1005" y="279.7" text-anchor="end" class="ax">300.0Mbit/s</text>
<text x="1580" y="279.7" class="ax">300.0Mbit/s</text>
<line x1="1025" x2="1560" y1="257.2" y2="257.2" stroke="#20252c" stroke-width="1"/>
<line x1="1015" x2="1025" y1="257.2" y2="257.2" stroke="#383c42" stroke-width="1"/>
<line x1="1560" x2="1570" y1="257.2" y2="257.2" stroke="#383c42" stroke-width="1"/>
<text x="1005" y="260.7" text-anchor="end" class="ax">400.0Mbit/s</text>
<text x="1580" y="260.7" class="ax">400.0Mbit/s</text>
<line x1="1025" x2="1560" y1="238.2" y2="238.2" stroke="#20252c" stroke-width="1"/>
<line x1="1015" x2="1025" y1="238.2" y2="238.2" stroke="#383c42" stroke-width="1"/>
<line x1="1560" x2="1570" y1="238.2" y2="238.2" stroke="#383c42" stroke-width="1"/>
<text x="1005" y="241.7" text-anchor="end" class="ax">500.0Mbit/s</text>
<text x="1580" y="241.7" class="ax">500.0Mbit/s</text>
<line x1="1025" x2="1560" y1="219.2" y2="219.2" stroke="#20252c" stroke-width="1"/>
<line x1="1015" x2="1025" y1="219.2" y2="219.2" stroke="#383c42" stroke-width="1"/>
<line x1="1560" x2="1570" y1="219.2" y2="219.2" stroke="#383c42" stroke-width="1"/>
<text x="1005" y="222.7" text-anchor="end" class="ax">600.0Mbit/s</text>
<text x="1580" y="222.7" class="ax">600.0Mbit/s</text>
<line x1="1025" x2="1560" y1="200.2" y2="200.2" stroke="#20252c" stroke-width="1"/>
<line x1="1015" x2="1025" y1="200.2" y2="200.2" stroke="#383c42" stroke-width="1"/>
<line x1="1560" x2="1570" y1="200.2" y2="200.2" stroke="#383c42" stroke-width="1"/>
<text x="1005" y="203.7" text-anchor="end" class="ax">700.0Mbit/s</text>
<text x="1580" y="203.7" class="ax">700.0Mbit/s</text>
<line x1="1025" x2="1560" y1="181.2" y2="181.2" stroke="#20252c" stroke-width="1"/>
<line x1="1015" x2="1025" y1="181.2" y2="181.2" stroke="#383c42" stroke-width="1"/>
<line x1="1560" x2="1570" y1="181.2" y2="181.2" stroke="#383c42" stroke-width="1"/>
<text x="1005" y="184.7" text-anchor="end" class="ax">800.0Mbit/s</text>
<text x="1580" y="184.7" class="ax">800.0Mbit/s</text>
<line x1="1025" x2="1560" y1="162.2" y2="162.2" stroke="#20252c" stroke-width="1"/>
<line x1="1015" x2="1025" y1="162.2" y2="162.2" stroke="#383c42" stroke-width="1"/>
<line x1="1560" x2="1570" y1="162.2" y2="162.2" stroke="#383c42" stroke-width="1"/>
<text x="1005" y="165.7" text-anchor="end" class="ax">900.0Mbit/s</text>
<text x="1580" y="165.7" class="ax">900.0Mbit/s</text>
<line x1="1047.36" x2="1047.36" y1="146.5" y2="333.2" stroke="#20252c" stroke-width="1"/>
<line x1="1047.36" x2="1047.36" y1="333.2" y2="343.2" stroke="#383c42" stroke-width="1"/>
<text x="1047.36" y="361.3" text-anchor="middle" class="ax">10:00</text>
<line x1="1091.94" x2="1091.94" y1="146.5" y2="333.2" stroke="#20252c" stroke-width="1"/>
<line x1="1091.94" x2="1091.94" y1="333.2" y2="343.2" stroke="#383c42" stroke-width="1"/>
<text x="1091.94" y="361.3" text-anchor="middle" class="ax">10:30</text>
<line x1="1136.52" x2="1136.52" y1="146.5" y2="333.2" stroke="#20252c" stroke-width="1"/>
<line x1="1136.52" x2="1136.52" y1="333.2" y2="343.2" stroke="#383c42" stroke-width="1"/>
<text x="1136.52" y="361.3" text-anchor="middle" class="ax">11:00</text>
<line x1="1181.1" x2="1181.1" y1="146.5" y2="333.2" stroke="#20252c" stroke-width="1"/>
<line x1="1181.1" x2="1181.1" y1="333.2" y2="343.2" stroke="#383c42" stroke-width="1"/>
<text x="1181.1" y="361.3" text-anchor="middle" class="ax">11:30</text>
<line x1="1225.68" x2="1225.68" y1="146.5" y2="333.2" stroke="#20252c" stroke-width="1"/>
<line x1="1225.68" x2="1225.68" y1="333.2" y2="343.2" stroke="#383c42" stroke-width="1"/>
<text x="1225.68" y="361.3" text-anchor="middle" class="ax">12:00</text>
<line x1="1270.26" x2="1270.26" y1="146.5" y2="333.2" stroke="#20252c" stroke-width="1"/>
<line x1="1270.26" x2="1270.26" y1="333.2" y2="343.2" stroke="#383c42" stroke-width="1"/>
<text x="1270.26" y="361.3" text-anchor="middle" class="ax">12:30</text>
<line x1="1314.84" x2="1314.84" y1="146.5" y2="333.2" stroke="#20252c" stroke-width="1"/>
<line x1="1314.84" x2="1314.84" y1="333.2" y2="343.2" stroke="#383c42" stroke-width="1"/>
<text x="1314.84" y="361.3" text-anchor="middle" class="ax">13:00</text>
<line x1="1359.42" x2="1359.42" y1="146.5" y2="333.2" stroke="#20252c" stroke-width="1"/>
<line x1="1359.42" x2="1359.42" y1="333.2" y2="343.2" stroke="#383c42" stroke-width="1"/>
<text x="1359.42" y="361.3" text-anchor="middle" class="ax">13:30</text>
<line x1="1404" x2="1404" y1="146.5" y2="333.2" stroke="#20252c" stroke-width="1"/>
<line x1="1404" x2="1404" y1="333.2" y2="343.2" stroke="#383c42" stroke-width="1"/>
<text x="1404" y="361.3" text-anchor="middle" class="ax">14:00</text>
<line x1="1448.58" x2="1448.58" y1="146.5" y2="333.2" stroke="#20252c" stroke-width="1"/>
<line x1="1448.58" x2="1448.58" y1="333.2" y2="343.2" stroke="#383c42" stroke-width="1"/>
<text x="1448.58" y="361.3" text-anchor="middle" class="ax">14:30</text>
<line x1="1493.16" x2="1493.16" y1="146.5" y2="333.2" stroke="#20252c" stroke-width="1"/>
<line x1="1493.16" x2="1493.16" y1="333.2" y2="343.2" stroke="#383c42" stroke-width="1"/>
<text x="1493.16" y="361.3" text-anchor="middle" class="ax">15:00</text>
<line x1="1537.74" x2="1537.74" y1="146.5" y2="333.2" stroke="#20252c" stroke-width="1"/>
<line x1="1537.74" x2="1537.74" y1="333.2" y2="343.2" stroke="#383c42" stroke-width="1"/>
<text x="1537.74" y="361.3" text-anchor="middle" class="ax">15:30</text>
<line x1="1025" x2="1025" y1="146.5" y2="333.2" stroke="#383c42" stroke-width="1"/>
<line x1="1560" x2="1560" y1="146.5" y2="333.2" stroke="#383c42" stroke-width="1"/>
<rect x="1032.7" y="188.99" width="7.03" height="144.21" fill="#5fb900"/>
<rect x="1032.7" y="148.52" width="7.03" height="40.47" fill="#35b4f0"/>
<rect x="1032.7" y="147.66" width="7.03" height="0.85" fill="#d6d23a"/>
<rect x="1032.7" y="146.81" width="7.03" height="0.85" fill="#8a8f98"/>
<rect x="1040.13" y="256.48" width="7.03" height="76.72" fill="#5fb900"/>
<rect x="1040.13" y="255.7" width="7.03" height="0.78" fill="#8a8f98"/>
<rect x="1040.13" y="254.92" width="7.03" height="0.78" fill="#c9cf3a"/>
<rect x="1047.56" y="156.64" width="7.03" height="176.56" fill="#5fb900"/>
<rect x="1047.56" y="155.81" width="7.03" height="0.83" fill="#c9cf3a"/>
<rect x="1047.56" y="154.98" width="7.03" height="0.83" fill="#d6d23a"/>
<rect x="1054.99" y="291.7" width="7.03" height="41.5" fill="#5fb900"/>
<rect x="1054.99" y="291.55" width="7.03" height="0.15" fill="#d6d23a"/>
<rect x="1054.99" y="291.4" width="7.03" height="0.15" fill="#8a8f98"/>
<rect x="1062.42" y="267.02" width="7.03" height="66.18" fill="#5fb900"/>
<rect x="1062.42" y="266.77" width="7.03" height="0.26" fill="#8a8f98"/>
<rect x="1062.42" y="266.51" width="7.03" height="0.26" fill="#c9cf3a"/>
<rect x="1069.85" y="265.85" width="7.03" height="67.35" fill="#5fb900"/>
<rect x="1069.85" y="265.23" width="7.03" height="0.62" fill="#c9cf3a"/>
<rect x="1069.85" y="264.61" width="7.03" height="0.62" fill="#d6d23a"/>
<rect x="1077.28" y="200.77" width="7.03" height="132.43" fill="#5fb900"/>
<rect x="1077.28" y="164.1" width="7.03" height="36.67" fill="#35b4f0"/>
<rect x="1077.28" y="163.24" width="7.03" height="0.85" fill="#d6d23a"/>
<rect x="1077.28" y="162.39" width="7.03" height="0.85" fill="#8a8f98"/>
<rect x="1084.71" y="266.71" width="7.03" height="66.49" fill="#5fb900"/>
<rect x="1084.71" y="266.61" width="7.03" height="0.1" fill="#8a8f98"/>
<rect x="1084.71" y="266.51" width="7.03" height="0.1" fill="#c9cf3a"/>
<rect x="1092.14" y="164.99" width="7.03" height="168.21" fill="#5fb900"/>
<rect x="1092.14" y="164.74" width="7.03" height="0.26" fill="#c9cf3a"/>
<rect x="1092.14" y="164.48" width="7.03" height="0.26" fill="#d6d23a"/>
<rect x="1099.57" y="293.43" width="7.03" height="39.77" fill="#5fb900"/>
<rect x="1099.57" y="293.18" width="7.03" height="0.26" fill="#d6d23a"/>
<rect x="1099.57" y="292.92" width="7.03" height="0.26" fill="#8a8f98"/>
<rect x="1107" y="257.49" width="7.03" height="75.71" fill="#5fb900"/>
<rect x="1107" y="256.39" width="7.03" height="1.09" fill="#8a8f98"/>
<rect x="1107" y="255.3" width="7.03" height="1.09" fill="#c9cf3a"/>
<rect x="1114.43" y="258.17" width="7.03" height="75.03" fill="#5fb900"/>
<rect x="1114.43" y="257.49" width="7.03" height="0.67" fill="#c9cf3a"/>
<rect x="1114.43" y="256.82" width="7.03" height="0.67" fill="#d6d23a"/>
<rect x="1121.86" y="200.01" width="7.03" height="133.19" fill="#5fb900"/>
<rect x="1121.86" y="160.11" width="7.03" height="39.9" fill="#35b4f0"/>
<rect x="1121.86" y="159.25" width="7.03" height="0.85" fill="#d6d23a"/>
<rect x="1121.86" y="158.4" width="7.03" height="0.85" fill="#8a8f98"/>
<rect x="1129.29" y="269.06" width="7.03" height="64.14" fill="#5fb900"/>
<rect x="1136.72" y="165.86" width="7.03" height="167.34" fill="#5fb900"/>
<rect x="1136.72" y="165.55" width="7.03" height="0.31" fill="#c9cf3a"/>
<rect x="1136.72" y="165.24" width="7.03" height="0.31" fill="#d6d23a"/>
<rect x="1144.15" y="292.02" width="7.03" height="41.18" fill="#5fb900"/>
<rect x="1144.15" y="291.71" width="7.03" height="0.31" fill="#d6d23a"/>
<rect x="1144.15" y="291.4" width="7.03" height="0.31" fill="#8a8f98"/>
<rect x="1151.58" y="265.08" width="7.03" height="68.12" fill="#5fb900"/>
<rect x="1151.58" y="263.99" width="7.03" height="1.09" fill="#8a8f98"/>
<rect x="1151.58" y="262.9" width="7.03" height="1.09" fill="#c9cf3a"/>
<rect x="1159.01" y="266.37" width="7.03" height="66.83" fill="#5fb900"/>
<rect x="1159.01" y="266.06" width="7.03" height="0.31" fill="#c9cf3a"/>
<rect x="1159.01" y="265.75" width="7.03" height="0.31" fill="#d6d23a"/>
<rect x="1166.44" y="200.01" width="7.03" height="133.19" fill="#5fb900"/>
<rect x="1166.44" y="161.44" width="7.03" height="38.57" fill="#35b4f0"/>
<rect x="1166.44" y="160.58" width="7.03" height="0.85" fill="#d6d23a"/>
<rect x="1166.44" y="159.73" width="7.03" height="0.85" fill="#8a8f98"/>
<rect x="1173.87" y="267.28" width="7.03" height="65.92" fill="#5fb900"/>
<rect x="1173.87" y="267.18" width="7.03" height="0.1" fill="#8a8f98"/>
<rect x="1173.87" y="267.08" width="7.03" height="0.1" fill="#c9cf3a"/>
<rect x="1181.3" y="165.86" width="7.03" height="167.34" fill="#5fb900"/>
<rect x="1181.3" y="165.55" width="7.03" height="0.31" fill="#c9cf3a"/>
<rect x="1181.3" y="165.24" width="7.03" height="0.31" fill="#d6d23a"/>
<rect x="1188.73" y="313.09" width="7.03" height="20.11" fill="#5fb900"/>
<rect x="1188.73" y="312.88" width="7.03" height="0.2" fill="#d6d23a"/>
<rect x="1188.73" y="312.68" width="7.03" height="0.2" fill="#8a8f98"/>
<rect x="1196.16" y="251.66" width="7.03" height="81.54" fill="#5fb900"/>
<rect x="1203.59" y="267.94" width="7.03" height="65.26" fill="#5fb900"/>
<rect x="1203.59" y="267.89" width="7.03" height="0.05" fill="#c9cf3a"/>
<rect x="1203.59" y="267.84" width="7.03" height="0.05" fill="#d6d23a"/>
<rect x="1211.02" y="200.77" width="7.03" height="132.43" fill="#5fb900"/>
<rect x="1211.02" y="164.1" width="7.03" height="36.67" fill="#35b4f0"/>
<rect x="1211.02" y="163.24" width="7.03" height="0.85" fill="#d6d23a"/>
<rect x="1211.02" y="162.39" width="7.03" height="0.85" fill="#8a8f98"/>
<rect x="1218.45" y="270.04" width="7.03" height="63.16" fill="#5fb900"/>
<rect x="1218.45" y="269.89" width="7.03" height="0.15" fill="#8a8f98"/>
<rect x="1218.45" y="269.74" width="7.03" height="0.15" fill="#c9cf3a"/>
<rect x="1225.88" y="164.42" width="7.03" height="168.78" fill="#5fb900"/>
<rect x="1225.88" y="164.17" width="7.03" height="0.26" fill="#c9cf3a"/>
<rect x="1225.88" y="163.91" width="7.03" height="0.26" fill="#d6d23a"/>
<rect x="1233.31" y="309.54" width="7.03" height="23.66" fill="#5fb900"/>
<rect x="1233.31" y="309.5" width="7.03" height="0.05" fill="#d6d23a"/>
<rect x="1233.31" y="309.45" width="7.03" height="0.05" fill="#8a8f98"/>
<rect x="1240.74" y="252.42" width="7.03" height="80.78" fill="#5fb900"/>
<rect x="1248.17" y="246.91" width="7.03" height="86.29" fill="#5fb900"/>
<rect x="1255.6" y="200.77" width="7.03" height="132.43" fill="#5fb900"/>
<rect x="1255.6" y="164.1" width="7.03" height="36.67" fill="#35b4f0"/>
<rect x="1255.6" y="163.24" width="7.03" height="0.85" fill="#d6d23a"/>
<rect x="1255.6" y="162.39" width="7.03" height="0.85" fill="#8a8f98"/>
<rect x="1263.03" y="239.85" width="7.03" height="93.35" fill="#5fb900"/>
<rect x="1263.03" y="239.6" width="7.03" height="0.26" fill="#8a8f98"/>
<rect x="1263.03" y="239.34" width="7.03" height="0.26" fill="#c9cf3a"/>
<rect x="1270.46" y="166.2" width="7.03" height="167" fill="#5fb900"/>
<rect x="1270.46" y="166.1" width="7.03" height="0.1" fill="#c9cf3a"/>
<rect x="1270.46" y="166" width="7.03" height="0.1" fill="#d6d23a"/>
<rect x="1277.89" y="316.99" width="7.03" height="16.21" fill="#5fb900"/>
<rect x="1277.89" y="316.74" width="7.03" height="0.26" fill="#d6d23a"/>
<rect x="1277.89" y="316.48" width="7.03" height="0.26" fill="#8a8f98"/>
<rect x="1285.32" y="244.58" width="7.03" height="88.62" fill="#5fb900"/>
<rect x="1285.32" y="244.43" width="7.03" height="0.15" fill="#8a8f98"/>
<rect x="1285.32" y="244.28" width="7.03" height="0.15" fill="#c9cf3a"/>
<rect x="1292.75" y="259.68" width="7.03" height="73.52" fill="#5fb900"/>
<rect x="1292.75" y="259.58" width="7.03" height="0.1" fill="#c9cf3a"/>
<rect x="1292.75" y="259.48" width="7.03" height="0.1" fill="#d6d23a"/>
<rect x="1300.18" y="200.77" width="7.03" height="132.43" fill="#5fb900"/>
<rect x="1300.18" y="163.34" width="7.03" height="37.43" fill="#35b4f0"/>
<rect x="1300.18" y="162.48" width="7.03" height="0.85" fill="#d6d23a"/>
<rect x="1300.18" y="161.63" width="7.03" height="0.85" fill="#8a8f98"/>
<rect x="1307.61" y="270.04" width="7.03" height="63.16" fill="#5fb900"/>
<rect x="1307.61" y="269.89" width="7.03" height="0.15" fill="#8a8f98"/>
<rect x="1307.61" y="269.74" width="7.03" height="0.15" fill="#c9cf3a"/>
<rect x="1315.04" y="178.89" width="7.03" height="154.31" fill="#5fb900"/>
<rect x="1322.47" y="300.38" width="7.03" height="32.82" fill="#5fb900"/>
<rect x="1322.47" y="300.07" width="7.03" height="0.31" fill="#d6d23a"/>
<rect x="1322.47" y="299.76" width="7.03" height="0.31" fill="#8a8f98"/>
<rect x="1329.9" y="275.98" width="7.03" height="57.22" fill="#5fb900"/>
<rect x="1337.33" y="235.21" width="7.03" height="97.99" fill="#5fb900"/>
<rect x="1337.33" y="234.9" width="7.03" height="0.31" fill="#c9cf3a"/>
<rect x="1337.33" y="234.59" width="7.03" height="0.31" fill="#d6d23a"/>
<rect x="1344.76" y="214.64" width="7.03" height="118.56" fill="#5fb900"/>
<rect x="1344.76" y="174.36" width="7.03" height="40.28" fill="#35b4f0"/>
<rect x="1344.76" y="173.5" width="7.03" height="0.85" fill="#d6d23a"/>
<rect x="1344.76" y="172.65" width="7.03" height="0.85" fill="#8a8f98"/>
<rect x="1352.19" y="252.55" width="7.03" height="80.65" fill="#5fb900"/>
<rect x="1352.19" y="251.93" width="7.03" height="0.62" fill="#8a8f98"/>
<rect x="1352.19" y="251.31" width="7.03" height="0.62" fill="#c9cf3a"/>
<rect x="1359.62" y="190.09" width="7.03" height="143.11" fill="#5fb900"/>
<rect x="1359.62" y="189.73" width="7.03" height="0.36" fill="#c9cf3a"/>
<rect x="1359.62" y="189.37" width="7.03" height="0.36" fill="#d6d23a"/>
<rect x="1367.05" y="288.83" width="7.03" height="44.37" fill="#5fb900"/>
<rect x="1367.05" y="287.74" width="7.03" height="1.09" fill="#d6d23a"/>
<rect x="1367.05" y="286.65" width="7.03" height="1.09" fill="#8a8f98"/>
<rect x="1374.48" y="275.96" width="7.03" height="57.24" fill="#5fb900"/>
<rect x="1374.48" y="275.13" width="7.03" height="0.83" fill="#8a8f98"/>
<rect x="1374.48" y="274.3" width="7.03" height="0.83" fill="#c9cf3a"/>
<rect x="1381.91" y="234.34" width="7.03" height="98.86" fill="#5fb900"/>
<rect x="1381.91" y="233.04" width="7.03" height="1.3" fill="#c9cf3a"/>
<rect x="1381.91" y="231.74" width="7.03" height="1.3" fill="#d6d23a"/>
<rect x="1389.34" y="213.88" width="7.03" height="119.32" fill="#5fb900"/>
<rect x="1389.34" y="171.7" width="7.03" height="42.18" fill="#35b4f0"/>
<rect x="1389.34" y="170.84" width="7.03" height="0.85" fill="#d6d23a"/>
<rect x="1389.34" y="169.99" width="7.03" height="0.85" fill="#8a8f98"/>
<rect x="1396.77" y="265.08" width="7.03" height="68.12" fill="#5fb900"/>
<rect x="1396.77" y="263.99" width="7.03" height="1.09" fill="#8a8f98"/>
<rect x="1396.77" y="262.9" width="7.03" height="1.09" fill="#c9cf3a"/>
<rect x="1404.2" y="174.09" width="7.03" height="159.11" fill="#5fb900"/>
<rect x="1404.2" y="172.9" width="7.03" height="1.2" fill="#c9cf3a"/>
<rect x="1404.2" y="171.7" width="7.03" height="1.2" fill="#d6d23a"/>
<rect x="1411.63" y="290.11" width="7.03" height="43.09" fill="#5fb900"/>
<rect x="1411.63" y="288.28" width="7.03" height="1.82" fill="#d6d23a"/>
<rect x="1411.63" y="286.46" width="7.03" height="1.82" fill="#8a8f98"/>
<rect x="1419.06" y="287.37" width="7.03" height="45.83" fill="#5fb900"/>
<rect x="1419.06" y="285.97" width="7.03" height="1.41" fill="#8a8f98"/>
<rect x="1419.06" y="284.56" width="7.03" height="1.41" fill="#c9cf3a"/>
<rect x="1426.49" y="222.8" width="7.03" height="110.4" fill="#5fb900"/>
<rect x="1426.49" y="221.76" width="7.03" height="1.04" fill="#c9cf3a"/>
<rect x="1426.49" y="220.72" width="7.03" height="1.04" fill="#d6d23a"/>
<rect x="1433.92" y="220.72" width="7.03" height="112.48" fill="#5fb900"/>
<rect x="1433.92" y="179.49" width="7.03" height="41.23" fill="#35b4f0"/>
<rect x="1433.92" y="178.63" width="7.03" height="0.85" fill="#d6d23a"/>
<rect x="1433.92" y="177.78" width="7.03" height="0.85" fill="#8a8f98"/>
<rect x="1441.35" y="274.7" width="7.03" height="58.5" fill="#5fb900"/>
<rect x="1441.35" y="274.02" width="7.03" height="0.67" fill="#8a8f98"/>
<rect x="1441.35" y="273.35" width="7.03" height="0.67" fill="#c9cf3a"/>
<rect x="1448.78" y="173.26" width="7.03" height="159.94" fill="#5fb900"/>
<rect x="1448.78" y="172.48" width="7.03" height="0.78" fill="#c9cf3a"/>
<rect x="1448.78" y="171.7" width="7.03" height="0.78" fill="#d6d23a"/>
<rect x="1456.21" y="292.07" width="7.03" height="41.13" fill="#5fb900"/>
<rect x="1456.21" y="291.45" width="7.03" height="0.62" fill="#d6d23a"/>
<rect x="1456.21" y="290.83" width="7.03" height="0.62" fill="#8a8f98"/>
<rect x="1463.64" y="284.7" width="7.03" height="48.5" fill="#5fb900"/>
<rect x="1463.64" y="283.87" width="7.03" height="0.83" fill="#8a8f98"/>
<rect x="1463.64" y="283.04" width="7.03" height="0.83" fill="#c9cf3a"/>
<rect x="1471.07" y="226.67" width="7.03" height="106.53" fill="#5fb900"/>
<rect x="1471.07" y="225.78" width="7.03" height="0.88" fill="#c9cf3a"/>
<rect x="1471.07" y="224.9" width="7.03" height="0.88" fill="#d6d23a"/>
<rect x="1478.5" y="218.25" width="7.03" height="114.95" fill="#5fb900"/>
<rect x="1478.5" y="176.64" width="7.03" height="41.61" fill="#35b4f0"/>
<rect x="1478.5" y="175.78" width="7.03" height="0.85" fill="#d6d23a"/>
<rect x="1478.5" y="174.93" width="7.03" height="0.85" fill="#8a8f98"/>
<rect x="1485.93" y="266.71" width="7.03" height="66.49" fill="#5fb900"/>
<rect x="1485.93" y="264.52" width="7.03" height="2.19" fill="#8a8f98"/>
<rect x="1485.93" y="262.33" width="7.03" height="2.19" fill="#c9cf3a"/>
<rect x="1493.36" y="173.54" width="7.03" height="159.66" fill="#5fb900"/>
<rect x="1493.36" y="171.2" width="7.03" height="2.35" fill="#c9cf3a"/>
<rect x="1493.36" y="168.85" width="7.03" height="2.35" fill="#d6d23a"/>
<rect x="1500.79" y="295.35" width="7.03" height="37.85" fill="#5fb900"/>
<rect x="1500.79" y="292.9" width="7.03" height="2.45" fill="#d6d23a"/>
<rect x="1500.79" y="290.45" width="7.03" height="2.45" fill="#8a8f98"/>
<rect x="1508.22" y="285.18" width="7.03" height="48.02" fill="#5fb900"/>
<rect x="1508.22" y="282.78" width="7.03" height="2.4" fill="#8a8f98"/>
<rect x="1508.22" y="280.38" width="7.03" height="2.4" fill="#c9cf3a"/>
<rect x="1515.65" y="224" width="7.03" height="109.2" fill="#5fb900"/>
<rect x="1515.65" y="221.6" width="7.03" height="2.4" fill="#c9cf3a"/>
<rect x="1515.65" y="219.2" width="7.03" height="2.4" fill="#d6d23a"/>
<rect x="1523.08" y="216.73" width="7.03" height="116.47" fill="#5fb900"/>
<rect x="1523.08" y="170.56" width="7.03" height="46.17" fill="#35b4f0"/>
<rect x="1523.08" y="169.7" width="7.03" height="0.85" fill="#d6d23a"/>
<rect x="1523.08" y="168.85" width="7.03" height="0.85" fill="#8a8f98"/>
<rect x="1530.51" y="269.56" width="7.03" height="63.64" fill="#5fb900"/>
<rect x="1530.51" y="267.37" width="7.03" height="2.19" fill="#8a8f98"/>
<rect x="1530.51" y="265.18" width="7.03" height="2.19" fill="#c9cf3a"/>
<rect x="1537.94" y="173.2" width="7.03" height="160" fill="#5fb900"/>
<rect x="1537.94" y="170.65" width="7.03" height="2.56" fill="#c9cf3a"/>
<rect x="1537.94" y="168.09" width="7.03" height="2.56" fill="#d6d23a"/>
<rect x="1545.37" y="295.18" width="7.03" height="38.02" fill="#5fb900"/>
<rect x="1545.37" y="292.63" width="7.03" height="2.56" fill="#d6d23a"/>
<rect x="1545.37" y="290.07" width="7.03" height="2.56" fill="#8a8f98"/>
<rect x="1552.8" y="285.23" width="7.03" height="47.97" fill="#5fb900"/>
<rect x="1552.8" y="282.52" width="7.03" height="2.71" fill="#8a8f98"/>
<rect x="1552.8" y="279.81" width="7.03" height="2.71" fill="#c9cf3a"/>
<polygon points="1028.78,333.2 1028.78,333.2 1036.21,145.86 1043.64,253.97 1051.08,154.03 1058.5,290.45 1065.93,265.56 1073.37,263.66 1080.79,161.44 1088.22,265.56 1095.65,163.53 1103.09,291.97 1110.51,254.35 1117.94,255.87 1125.38,157.45 1132.8,268.22 1140.23,164.29 1147.66,290.45 1155.1,261.95 1162.52,264.8 1169.95,158.78 1177.38,266.13 1184.82,164.29 1192.24,311.73 1199.67,250.93 1207.11,266.89 1214.53,161.44 1221.96,268.79 1229.39,162.96 1236.82,308.5 1244.25,251.69 1251.68,246.18 1259.12,161.44 1266.54,238.39 1273.97,165.05 1281.4,315.53 1288.84,243.33 1296.26,258.53 1303.69,160.68 1311.12,268.79 1318.55,178.16 1325.98,298.81 1333.41,275.25 1340.84,233.64 1348.27,171.7 1355.7,250.36 1363.13,188.42 1370.57,285.7 1377.99,273.35 1385.42,230.79 1392.86,169.04 1400.28,261.95 1407.71,170.75 1415.14,285.51 1422.57,283.61 1430,219.77 1437.43,176.83 1444.86,272.4 1452.29,170.75 1459.72,289.88 1467.15,282.09 1474.59,223.95 1482.01,173.98 1489.44,261.38 1496.88,167.9 1504.3,289.5 1511.73,279.43 1519.16,218.25 1526.59,167.9 1534.02,264.23 1541.45,167.14 1548.88,289.12 1556.32,278.86 1556.32,333.2" fill="#19c2ff" fill-opacity="0.5"/>
<polyline points="1028.78,333.2 1036.21,145.86 1043.64,253.97 1051.08,154.03 1058.5,290.45 1065.93,265.56 1073.37,263.66 1080.79,161.44 1088.22,265.56 1095.65,163.53 1103.09,291.97 1110.51,254.35 1117.94,255.87 1125.38,157.45 1132.8,268.22 1140.23,164.29 1147.66,290.45 1155.1,261.95 1162.52,264.8 1169.95,158.78 1177.38,266.13 1184.82,164.29 1192.24,311.73 1199.67,250.93 1207.11,266.89 1214.53,161.44 1221.96,268.79 1229.39,162.96 1236.82,308.5 1244.25,251.69 1251.68,246.18 1259.12,161.44 1266.54,238.39 1273.97,165.05 1281.4,315.53 1288.84,243.33 1296.26,258.53 1303.69,160.68 1311.12,268.79 1318.55,178.16 1325.98,298.81 1333.41,275.25 1340.84,233.64 1348.27,171.7 1355.7,250.36 1363.13,188.42 1370.57,285.7 1377.99,273.35 1385.42,230.79 1392.86,169.04 1400.28,261.95 1407.71,170.75 1415.14,285.51 1422.57,283.61 1430,219.77 1437.43,176.83 1444.86,272.4 1452.29,170.75 1459.72,289.88 1467.15,282.09 1474.59,223.95 1482.01,173.98 1489.44,261.38 1496.88,167.9 1504.3,289.5 1511.73,279.43 1519.16,218.25 1526.59,167.9 1534.02,264.23 1541.45,167.14 1548.88,289.12 1556.32,278.86" fill="none" stroke="#19c2ff" stroke-width="2.0" stroke-linejoin="round" stroke-linecap="round"/>
<rect x="1556.32" y="290.45" width="3.51" height="42.75" fill="#78c63a"/>
<text x="1292" y="379.8" text-anchor="middle" class="xt">per 5 minutes</text>
<line x1="74" x2="641.3" y1="652.8" y2="652.8" stroke="#20252c" stroke-width="1"/>
<line x1="64" x2="74" y1="652.8" y2="652.8" stroke="#383c42" stroke-width="1"/>
<line x1="641.3" x2="651.3" y1="652.8" y2="652.8" stroke="#383c42" stroke-width="1"/>
<text x="53.5" y="656.3" text-anchor="end" class="ax">0p/s</text>
<text x="661" y="656.3" class="ax">0p/s</text>
<line x1="74" x2="641.3" y1="627.73" y2="627.73" stroke="#20252c" stroke-width="1"/>
<line x1="64" x2="74" y1="627.73" y2="627.73" stroke="#383c42" stroke-width="1"/>
<line x1="641.3" x2="651.3" y1="627.73" y2="627.73" stroke="#383c42" stroke-width="1"/>
<text x="53.5" y="631.23" text-anchor="end" class="ax">100kp/s</text>
<text x="661" y="631.23" class="ax">100kp/s</text>
<line x1="74" x2="641.3" y1="602.66" y2="602.66" stroke="#20252c" stroke-width="1"/>
<line x1="64" x2="74" y1="602.66" y2="602.66" stroke="#383c42" stroke-width="1"/>
<line x1="641.3" x2="651.3" y1="602.66" y2="602.66" stroke="#383c42" stroke-width="1"/>
<text x="53.5" y="606.16" text-anchor="end" class="ax">200kp/s</text>
<text x="661" y="606.16" class="ax">200kp/s</text>
<line x1="74" x2="641.3" y1="577.59" y2="577.59" stroke="#20252c" stroke-width="1"/>
<line x1="64" x2="74" y1="577.59" y2="577.59" stroke="#383c42" stroke-width="1"/>
<line x1="641.3" x2="651.3" y1="577.59" y2="577.59" stroke="#383c42" stroke-width="1"/>
<text x="53.5" y="581.09" text-anchor="end" class="ax">300kp/s</text>
<text x="661" y="581.09" class="ax">300kp/s</text>
<line x1="74" x2="641.3" y1="552.52" y2="552.52" stroke="#20252c" stroke-width="1"/>
<line x1="64" x2="74" y1="552.52" y2="552.52" stroke="#383c42" stroke-width="1"/>
<line x1="641.3" x2="651.3" y1="552.52" y2="552.52" stroke="#383c42" stroke-width="1"/>
<text x="53.5" y="556.02" text-anchor="end" class="ax">400kp/s</text>
<text x="661" y="556.02" class="ax">400kp/s</text>
<line x1="74" x2="641.3" y1="527.45" y2="527.45" stroke="#20252c" stroke-width="1"/>
<line x1="64" x2="74" y1="527.45" y2="527.45" stroke="#383c42" stroke-width="1"/>
<line x1="641.3" x2="651.3" y1="527.45" y2="527.45" stroke="#383c42" stroke-width="1"/>
<text x="53.5" y="530.95" text-anchor="end" class="ax">500kp/s</text>
<text x="661" y="530.95" class="ax">500kp/s</text>
<line x1="74" x2="641.3" y1="502.38" y2="502.38" stroke="#20252c" stroke-width="1"/>
<line x1="64" x2="74" y1="502.38" y2="502.38" stroke="#383c42" stroke-width="1"/>
<line x1="641.3" x2="651.3" y1="502.38" y2="502.38" stroke="#383c42" stroke-width="1"/>
<text x="53.5" y="505.88" text-anchor="end" class="ax">600kp/s</text>
<text x="661" y="505.88" class="ax">600kp/s</text>
<line x1="74" x2="641.3" y1="477.31" y2="477.31" stroke="#20252c" stroke-width="1"/>
<line x1="64" x2="74" y1="477.31" y2="477.31" stroke="#383c42" stroke-width="1"/>
<line x1="641.3" x2="651.3" y1="477.31" y2="477.31" stroke="#383c42" stroke-width="1"/>
<text x="53.5" y="480.81" text-anchor="end" class="ax">700kp/s</text>
<text x="661" y="480.81" class="ax">700kp/s</text>
<line x1="97.64" x2="97.64" y1="466.5" y2="652.8" stroke="#20252c" stroke-width="1"/>
<line x1="97.64" x2="97.64" y1="652.8" y2="662.8" stroke="#383c42" stroke-width="1"/>
<text x="97.64" y="681.6" text-anchor="middle" class="ax">10:00</text>
<line x1="144.92" x2="144.92" y1="466.5" y2="652.8" stroke="#20252c" stroke-width="1"/>
<line x1="144.92" x2="144.92" y1="652.8" y2="662.8" stroke="#383c42" stroke-width="1"/>
<text x="144.92" y="681.6" text-anchor="middle" class="ax">10:30</text>
<line x1="192.2" x2="192.2" y1="466.5" y2="652.8" stroke="#20252c" stroke-width="1"/>
<line x1="192.2" x2="192.2" y1="652.8" y2="662.8" stroke="#383c42" stroke-width="1"/>
<text x="192.2" y="681.6" text-anchor="middle" class="ax">11:00</text>
<line x1="239.48" x2="239.48" y1="466.5" y2="652.8" stroke="#20252c" stroke-width="1"/>
<line x1="239.48" x2="239.48" y1="652.8" y2="662.8" stroke="#383c42" stroke-width="1"/>
<text x="239.48" y="681.6" text-anchor="middle" class="ax">11:30</text>
<line x1="286.76" x2="286.76" y1="466.5" y2="652.8" stroke="#20252c" stroke-width="1"/>
<line x1="286.76" x2="286.76" y1="652.8" y2="662.8" stroke="#383c42" stroke-width="1"/>
<text x="286.76" y="681.6" text-anchor="middle" class="ax">12:00</text>
<line x1="334.04" x2="334.04" y1="466.5" y2="652.8" stroke="#20252c" stroke-width="1"/>
<line x1="334.04" x2="334.04" y1="652.8" y2="662.8" stroke="#383c42" stroke-width="1"/>
<text x="334.04" y="681.6" text-anchor="middle" class="ax">12:30</text>
<line x1="381.32" x2="381.32" y1="466.5" y2="652.8" stroke="#20252c" stroke-width="1"/>
<line x1="381.32" x2="381.32" y1="652.8" y2="662.8" stroke="#383c42" stroke-width="1"/>
<text x="381.32" y="681.6" text-anchor="middle" class="ax">13:00</text>
<line x1="428.6" x2="428.6" y1="466.5" y2="652.8" stroke="#20252c" stroke-width="1"/>
<line x1="428.6" x2="428.6" y1="652.8" y2="662.8" stroke="#383c42" stroke-width="1"/>
<text x="428.6" y="681.6" text-anchor="middle" class="ax">13:30</text>
<line x1="475.88" x2="475.88" y1="466.5" y2="652.8" stroke="#20252c" stroke-width="1"/>
<line x1="475.88" x2="475.88" y1="652.8" y2="662.8" stroke="#383c42" stroke-width="1"/>
<text x="475.88" y="681.6" text-anchor="middle" class="ax">14:00</text>
<line x1="523.16" x2="523.16" y1="466.5" y2="652.8" stroke="#20252c" stroke-width="1"/>
<line x1="523.16" x2="523.16" y1="652.8" y2="662.8" stroke="#383c42" stroke-width="1"/>
<text x="523.16" y="681.6" text-anchor="middle" class="ax">14:30</text>
<line x1="570.44" x2="570.44" y1="466.5" y2="652.8" stroke="#20252c" stroke-width="1"/>
<line x1="570.44" x2="570.44" y1="652.8" y2="662.8" stroke="#383c42" stroke-width="1"/>
<text x="570.44" y="681.6" text-anchor="middle" class="ax">15:00</text>
<line x1="617.72" x2="617.72" y1="466.5" y2="652.8" stroke="#20252c" stroke-width="1"/>
<line x1="617.72" x2="617.72" y1="652.8" y2="662.8" stroke="#383c42" stroke-width="1"/>
<text x="617.72" y="681.6" text-anchor="middle" class="ax">15:30</text>
<line x1="74" x2="74" y1="466.5" y2="652.8" stroke="#383c42" stroke-width="1"/>
<line x1="641.3" x2="641.3" y1="466.5" y2="652.8" stroke="#383c42" stroke-width="1"/>
<rect x="82.08" y="616.95" width="7.48" height="35.85" fill="#5fb900"/>
<rect x="82.08" y="612.19" width="7.48" height="4.76" fill="#35b4f0"/>
<rect x="82.08" y="611.94" width="7.48" height="0.25" fill="#8a8f98"/>
<rect x="82.08" y="611.69" width="7.48" height="0.25" fill="#d9602a"/>
<rect x="89.96" y="616.2" width="7.48" height="36.6" fill="#5fb900"/>
<rect x="89.96" y="615.32" width="7.48" height="0.88" fill="#d9602a"/>
<rect x="89.96" y="614.44" width="7.48" height="0.88" fill="#b03fb0"/>
<rect x="97.84" y="466.53" width="7.48" height="186.27" fill="#5fb900"/>
<rect x="97.84" y="466.4" width="7.48" height="0.13" fill="#b03fb0"/>
<rect x="97.84" y="466.28" width="7.48" height="0.13" fill="#e4607f"/>
<rect x="105.72" y="623.47" width="7.48" height="29.33" fill="#5fb900"/>
<rect x="105.72" y="622.72" width="7.48" height="0.75" fill="#e4607f"/>
<rect x="105.72" y="621.96" width="7.48" height="0.75" fill="#c9cf3a"/>
<rect x="113.6" y="607.42" width="7.48" height="45.38" fill="#5fb900"/>
<rect x="113.6" y="607.17" width="7.48" height="0.25" fill="#c9cf3a"/>
<rect x="113.6" y="606.92" width="7.48" height="0.25" fill="#8a8f98"/>
<rect x="121.48" y="640.52" width="7.48" height="12.28" fill="#5fb900"/>
<rect x="121.48" y="639.26" width="7.48" height="1.25" fill="#8a8f98"/>
<rect x="121.48" y="638.01" width="7.48" height="1.25" fill="#d9602a"/>
<rect x="129.36" y="618.45" width="7.48" height="34.35" fill="#5fb900"/>
<rect x="129.36" y="614.19" width="7.48" height="4.26" fill="#35b4f0"/>
<rect x="129.36" y="613.94" width="7.48" height="0.25" fill="#d9602a"/>
<rect x="129.36" y="613.69" width="7.48" height="0.25" fill="#b03fb0"/>
<rect x="137.24" y="617.7" width="7.48" height="35.1" fill="#5fb900"/>
<rect x="137.24" y="616.82" width="7.48" height="0.88" fill="#b03fb0"/>
<rect x="137.24" y="615.95" width="7.48" height="0.88" fill="#e4607f"/>
<rect x="145.12" y="467.28" width="7.48" height="185.52" fill="#5fb900"/>
<rect x="145.12" y="467.03" width="7.48" height="0.25" fill="#e4607f"/>
<rect x="145.12" y="466.78" width="7.48" height="0.25" fill="#c9cf3a"/>
<rect x="153" y="623.97" width="7.48" height="28.83" fill="#5fb900"/>
<rect x="153" y="623.34" width="7.48" height="0.63" fill="#c9cf3a"/>
<rect x="153" y="622.72" width="7.48" height="0.63" fill="#8a8f98"/>
<rect x="160.88" y="604.67" width="7.48" height="48.13" fill="#5fb900"/>
<rect x="160.88" y="604.41" width="7.48" height="0.25" fill="#8a8f98"/>
<rect x="160.88" y="604.16" width="7.48" height="0.25" fill="#d9602a"/>
<rect x="168.76" y="638.26" width="7.48" height="14.54" fill="#5fb900"/>
<rect x="168.76" y="637.01" width="7.48" height="1.25" fill="#d9602a"/>
<rect x="168.76" y="635.75" width="7.48" height="1.25" fill="#b03fb0"/>
<rect x="176.64" y="617.7" width="7.48" height="35.1" fill="#5fb900"/>
<rect x="176.64" y="613.19" width="7.48" height="4.51" fill="#35b4f0"/>
<rect x="176.64" y="612.94" width="7.48" height="0.25" fill="#b03fb0"/>
<rect x="176.64" y="612.69" width="7.48" height="0.25" fill="#e4607f"/>
<rect x="184.52" y="618.45" width="7.48" height="34.35" fill="#5fb900"/>
<rect x="184.52" y="617.45" width="7.48" height="1" fill="#e4607f"/>
<rect x="184.52" y="616.45" width="7.48" height="1" fill="#c9cf3a"/>
<rect x="192.4" y="467.28" width="7.48" height="185.52" fill="#5fb900"/>
<rect x="192.4" y="467.03" width="7.48" height="0.25" fill="#c9cf3a"/>
<rect x="192.4" y="466.78" width="7.48" height="0.25" fill="#8a8f98"/>
<rect x="200.28" y="623.97" width="7.48" height="28.83" fill="#5fb900"/>
<rect x="200.28" y="623.34" width="7.48" height="0.63" fill="#8a8f98"/>
<rect x="200.28" y="622.72" width="7.48" height="0.63" fill="#d9602a"/>
<rect x="208.16" y="606.67" width="7.48" height="46.13" fill="#5fb900"/>
<rect x="208.16" y="606.42" width="7.48" height="0.25" fill="#d9602a"/>
<rect x="208.16" y="606.17" width="7.48" height="0.25" fill="#b03fb0"/>
<rect x="216.04" y="641.27" width="7.48" height="11.53" fill="#5fb900"/>
<rect x="216.04" y="639.89" width="7.48" height="1.38" fill="#b03fb0"/>
<rect x="216.04" y="638.51" width="7.48" height="1.38" fill="#e4607f"/>
<rect x="223.92" y="618.45" width="7.48" height="34.35" fill="#5fb900"/>
<rect x="223.92" y="614.19" width="7.48" height="4.26" fill="#35b4f0"/>
<rect x="223.92" y="613.94" width="7.48" height="0.25" fill="#e4607f"/>
<rect x="223.92" y="613.69" width="7.48" height="0.25" fill="#c9cf3a"/>
<rect x="231.8" y="617.95" width="7.48" height="34.85" fill="#5fb900"/>
<rect x="231.8" y="617.2" width="7.48" height="0.75" fill="#c9cf3a"/>
<rect x="231.8" y="616.45" width="7.48" height="0.75" fill="#8a8f98"/>
<rect x="239.68" y="467.28" width="7.48" height="185.52" fill="#5fb900"/>
<rect x="239.68" y="467.03" width="7.48" height="0.25" fill="#8a8f98"/>
<rect x="239.68" y="466.78" width="7.48" height="0.25" fill="#d9602a"/>
<rect x="247.56" y="641.27" width="7.48" height="11.53" fill="#5fb900"/>
<rect x="247.56" y="640.39" width="7.48" height="0.88" fill="#d9602a"/>
<rect x="247.56" y="639.51" width="7.48" height="0.88" fill="#b03fb0"/>
<rect x="255.44" y="591.13" width="7.48" height="61.67" fill="#5fb900"/>
<rect x="255.44" y="591" width="7.48" height="0.13" fill="#b03fb0"/>
<rect x="255.44" y="590.88" width="7.48" height="0.13" fill="#e4607f"/>
<rect x="263.32" y="642.02" width="7.48" height="10.78" fill="#5fb900"/>
<rect x="263.32" y="641.14" width="7.48" height="0.88" fill="#e4607f"/>
<rect x="263.32" y="640.26" width="7.48" height="0.88" fill="#c9cf3a"/>
<rect x="271.2" y="618.96" width="7.48" height="33.84" fill="#5fb900"/>
<rect x="271.2" y="614.19" width="7.48" height="4.76" fill="#35b4f0"/>
<rect x="271.2" y="613.94" width="7.48" height="0.25" fill="#c9cf3a"/>
<rect x="271.2" y="613.69" width="7.48" height="0.25" fill="#8a8f98"/>
<rect x="279.08" y="618.45" width="7.48" height="34.35" fill="#5fb900"/>
<rect x="279.08" y="617.83" width="7.48" height="0.63" fill="#8a8f98"/>
<rect x="279.08" y="617.2" width="7.48" height="0.63" fill="#d9602a"/>
<rect x="286.96" y="467.28" width="7.48" height="185.52" fill="#5fb900"/>
<rect x="286.96" y="467.03" width="7.48" height="0.25" fill="#d9602a"/>
<rect x="286.96" y="466.78" width="7.48" height="0.25" fill="#b03fb0"/>
<rect x="294.84" y="640.52" width="7.48" height="12.28" fill="#5fb900"/>
<rect x="294.84" y="640.01" width="7.48" height="0.5" fill="#b03fb0"/>
<rect x="294.84" y="639.51" width="7.48" height="0.5" fill="#e4607f"/>
<rect x="302.72" y="591.13" width="7.48" height="61.67" fill="#5fb900"/>
<rect x="302.72" y="591" width="7.48" height="0.13" fill="#e4607f"/>
<rect x="302.72" y="590.88" width="7.48" height="0.13" fill="#c9cf3a"/>
<rect x="310.6" y="638.26" width="7.48" height="14.54" fill="#5fb900"/>
<rect x="310.6" y="637.51" width="7.48" height="0.75" fill="#c9cf3a"/>
<rect x="310.6" y="636.76" width="7.48" height="0.75" fill="#8a8f98"/>
<rect x="318.48" y="618.96" width="7.48" height="33.84" fill="#5fb900"/>
<rect x="318.48" y="614.19" width="7.48" height="4.76" fill="#35b4f0"/>
<rect x="318.48" y="613.94" width="7.48" height="0.25" fill="#8a8f98"/>
<rect x="318.48" y="613.69" width="7.48" height="0.25" fill="#d9602a"/>
<rect x="326.36" y="614.19" width="7.48" height="38.61" fill="#5fb900"/>
<rect x="326.36" y="613.69" width="7.48" height="0.5" fill="#d9602a"/>
<rect x="326.36" y="613.19" width="7.48" height="0.5" fill="#b03fb0"/>
<rect x="334.24" y="467.28" width="7.48" height="185.52" fill="#5fb900"/>
<rect x="334.24" y="467.03" width="7.48" height="0.25" fill="#b03fb0"/>
<rect x="334.24" y="466.78" width="7.48" height="0.25" fill="#e4607f"/>
<rect x="342.12" y="645.53" width="7.48" height="7.27" fill="#5fb900"/>
<rect x="342.12" y="644.53" width="7.48" height="1" fill="#e4607f"/>
<rect x="342.12" y="643.52" width="7.48" height="1" fill="#c9cf3a"/>
<rect x="350" y="585.11" width="7.48" height="67.69" fill="#5fb900"/>
<rect x="350" y="584.99" width="7.48" height="0.13" fill="#c9cf3a"/>
<rect x="350" y="584.86" width="7.48" height="0.13" fill="#8a8f98"/>
<rect x="357.88" y="640.52" width="7.48" height="12.28" fill="#5fb900"/>
<rect x="357.88" y="639.26" width="7.48" height="1.25" fill="#8a8f98"/>
<rect x="357.88" y="638.01" width="7.48" height="1.25" fill="#d9602a"/>
<rect x="365.76" y="618.96" width="7.48" height="33.84" fill="#5fb900"/>
<rect x="365.76" y="614.19" width="7.48" height="4.76" fill="#35b4f0"/>
<rect x="365.76" y="613.94" width="7.48" height="0.25" fill="#d9602a"/>
<rect x="365.76" y="613.69" width="7.48" height="0.25" fill="#b03fb0"/>
<rect x="373.64" y="618.45" width="7.48" height="34.35" fill="#5fb900"/>
<rect x="373.64" y="617.45" width="7.48" height="1" fill="#b03fb0"/>
<rect x="373.64" y="616.45" width="7.48" height="1" fill="#e4607f"/>
<rect x="381.52" y="479.32" width="7.48" height="173.48" fill="#5fb900"/>
<rect x="381.52" y="478.94" width="7.48" height="0.38" fill="#e4607f"/>
<rect x="381.52" y="478.56" width="7.48" height="0.38" fill="#c9cf3a"/>
<rect x="389.4" y="633.75" width="7.48" height="19.05" fill="#5fb900"/>
<rect x="389.4" y="632.49" width="7.48" height="1.25" fill="#c9cf3a"/>
<rect x="389.4" y="631.24" width="7.48" height="1.25" fill="#8a8f98"/>
<rect x="397.28" y="610.18" width="7.48" height="42.62" fill="#5fb900"/>
<rect x="397.28" y="609.8" width="7.48" height="0.38" fill="#8a8f98"/>
<rect x="397.28" y="609.43" width="7.48" height="0.38" fill="#d9602a"/>
<rect x="405.16" y="618.45" width="7.48" height="34.35" fill="#5fb900"/>
<rect x="405.16" y="617.83" width="7.48" height="0.63" fill="#d9602a"/>
<rect x="405.16" y="617.2" width="7.48" height="0.63" fill="#b03fb0"/>
<rect x="413.04" y="628.23" width="7.48" height="24.57" fill="#5fb900"/>
<rect x="413.04" y="623.22" width="7.48" height="5.01" fill="#35b4f0"/>
<rect x="413.04" y="622.97" width="7.48" height="0.25" fill="#b03fb0"/>
<rect x="413.04" y="622.72" width="7.48" height="0.25" fill="#e4607f"/>
<rect x="420.92" y="607.92" width="7.48" height="44.88" fill="#5fb900"/>
<rect x="420.92" y="607.8" width="7.48" height="0.13" fill="#e4607f"/>
<rect x="420.92" y="607.67" width="7.48" height="0.13" fill="#c9cf3a"/>
<rect x="428.8" y="482.07" width="7.48" height="170.73" fill="#5fb900"/>
<rect x="428.8" y="481.7" width="7.48" height="0.38" fill="#c9cf3a"/>
<rect x="428.8" y="481.32" width="7.48" height="0.38" fill="#8a8f98"/>
<rect x="436.68" y="630.99" width="7.48" height="21.81" fill="#5fb900"/>
<rect x="436.68" y="630.36" width="7.48" height="0.63" fill="#8a8f98"/>
<rect x="436.68" y="629.74" width="7.48" height="0.63" fill="#d9602a"/>
<rect x="444.56" y="610.18" width="7.48" height="42.62" fill="#5fb900"/>
<rect x="444.56" y="609.8" width="7.48" height="0.38" fill="#d9602a"/>
<rect x="444.56" y="609.43" width="7.48" height="0.38" fill="#b03fb0"/>
<rect x="452.44" y="618.45" width="7.48" height="34.35" fill="#5fb900"/>
<rect x="452.44" y="617.2" width="7.48" height="1.25" fill="#b03fb0"/>
<rect x="452.44" y="615.95" width="7.48" height="1.25" fill="#e4607f"/>
<rect x="460.32" y="628.23" width="7.48" height="24.57" fill="#5fb900"/>
<rect x="460.32" y="622.47" width="7.48" height="5.77" fill="#35b4f0"/>
<rect x="460.32" y="622.21" width="7.48" height="0.25" fill="#e4607f"/>
<rect x="460.32" y="621.96" width="7.48" height="0.25" fill="#c9cf3a"/>
<rect x="468.2" y="617.95" width="7.48" height="34.85" fill="#5fb900"/>
<rect x="468.2" y="617.58" width="7.48" height="0.38" fill="#c9cf3a"/>
<rect x="468.2" y="617.2" width="7.48" height="0.38" fill="#8a8f98"/>
<rect x="476.08" y="470.79" width="7.48" height="182.01" fill="#5fb900"/>
<rect x="476.08" y="470.54" width="7.48" height="0.25" fill="#8a8f98"/>
<rect x="476.08" y="470.29" width="7.48" height="0.25" fill="#d9602a"/>
<rect x="483.96" y="635.5" width="7.48" height="17.3" fill="#5fb900"/>
<rect x="483.96" y="635.13" width="7.48" height="0.38" fill="#d9602a"/>
<rect x="483.96" y="634.75" width="7.48" height="0.38" fill="#b03fb0"/>
<rect x="491.84" y="621.21" width="7.48" height="31.59" fill="#5fb900"/>
<rect x="491.84" y="620.96" width="7.48" height="0.25" fill="#b03fb0"/>
<rect x="491.84" y="620.71" width="7.48" height="0.25" fill="#e4607f"/>
<rect x="499.72" y="601.16" width="7.48" height="51.64" fill="#5fb900"/>
<rect x="499.72" y="600.91" width="7.48" height="0.25" fill="#e4607f"/>
<rect x="499.72" y="600.65" width="7.48" height="0.25" fill="#c9cf3a"/>
<rect x="507.6" y="628.98" width="7.48" height="23.82" fill="#5fb900"/>
<rect x="507.6" y="623.22" width="7.48" height="5.77" fill="#35b4f0"/>
<rect x="507.6" y="622.97" width="7.48" height="0.25" fill="#c9cf3a"/>
<rect x="507.6" y="622.72" width="7.48" height="0.25" fill="#8a8f98"/>
<rect x="515.48" y="618.96" width="7.48" height="33.84" fill="#5fb900"/>
<rect x="515.48" y="618.83" width="7.48" height="0.13" fill="#8a8f98"/>
<rect x="515.48" y="618.7" width="7.48" height="0.13" fill="#d9602a"/>
<rect x="523.36" y="470.79" width="7.48" height="182.01" fill="#5fb900"/>
<rect x="523.36" y="470.54" width="7.48" height="0.25" fill="#d9602a"/>
<rect x="523.36" y="470.29" width="7.48" height="0.25" fill="#b03fb0"/>
<rect x="531.24" y="636.5" width="7.48" height="16.3" fill="#5fb900"/>
<rect x="531.24" y="635.88" width="7.48" height="0.63" fill="#b03fb0"/>
<rect x="531.24" y="635.25" width="7.48" height="0.63" fill="#e4607f"/>
<rect x="539.12" y="620.71" width="7.48" height="32.09" fill="#5fb900"/>
<rect x="539.12" y="620.33" width="7.48" height="0.38" fill="#e4607f"/>
<rect x="539.12" y="619.96" width="7.48" height="0.38" fill="#c9cf3a"/>
<rect x="547" y="602.41" width="7.48" height="50.39" fill="#5fb900"/>
<rect x="547" y="601.91" width="7.48" height="0.5" fill="#c9cf3a"/>
<rect x="547" y="601.41" width="7.48" height="0.5" fill="#8a8f98"/>
<rect x="554.88" y="628.98" width="7.48" height="23.82" fill="#5fb900"/>
<rect x="554.88" y="623.22" width="7.48" height="5.77" fill="#35b4f0"/>
<rect x="554.88" y="622.97" width="7.48" height="0.25" fill="#8a8f98"/>
<rect x="554.88" y="622.72" width="7.48" height="0.25" fill="#d9602a"/>
<rect x="562.76" y="617.95" width="7.48" height="34.85" fill="#5fb900"/>
<rect x="562.76" y="617.7" width="7.48" height="0.25" fill="#d9602a"/>
<rect x="562.76" y="617.45" width="7.48" height="0.25" fill="#b03fb0"/>
<rect x="570.64" y="468.54" width="7.48" height="184.26" fill="#5fb900"/>
<rect x="570.64" y="468.28" width="7.48" height="0.25" fill="#b03fb0"/>
<rect x="570.64" y="468.03" width="7.48" height="0.25" fill="#e4607f"/>
<rect x="578.52" y="635" width="7.48" height="17.8" fill="#5fb900"/>
<rect x="578.52" y="634.87" width="7.48" height="0.13" fill="#e4607f"/>
<rect x="578.52" y="634.75" width="7.48" height="0.13" fill="#c9cf3a"/>
<rect x="586.4" y="619.71" width="7.48" height="33.09" fill="#5fb900"/>
<rect x="586.4" y="619.46" width="7.48" height="0.25" fill="#c9cf3a"/>
<rect x="586.4" y="619.21" width="7.48" height="0.25" fill="#8a8f98"/>
<rect x="594.28" y="600.4" width="7.48" height="52.4" fill="#5fb900"/>
<rect x="594.28" y="599.78" width="7.48" height="0.63" fill="#8a8f98"/>
<rect x="594.28" y="599.15" width="7.48" height="0.63" fill="#d9602a"/>
<rect x="602.16" y="628.23" width="7.48" height="24.57" fill="#5fb900"/>
<rect x="602.16" y="621.96" width="7.48" height="6.27" fill="#35b4f0"/>
<rect x="602.16" y="621.71" width="7.48" height="0.25" fill="#d9602a"/>
<rect x="602.16" y="621.46" width="7.48" height="0.25" fill="#b03fb0"/>
<rect x="610.04" y="617.95" width="7.48" height="34.85" fill="#5fb900"/>
<rect x="610.04" y="617.7" width="7.48" height="0.25" fill="#b03fb0"/>
<rect x="610.04" y="617.45" width="7.48" height="0.25" fill="#e4607f"/>
<rect x="617.92" y="468.54" width="7.48" height="184.26" fill="#5fb900"/>
<rect x="617.92" y="468.28" width="7.48" height="0.25" fill="#e4607f"/>
<rect x="617.92" y="468.03" width="7.48" height="0.25" fill="#c9cf3a"/>
<rect x="625.8" y="635" width="7.48" height="17.8" fill="#5fb900"/>
<rect x="625.8" y="634.87" width="7.48" height="0.13" fill="#c9cf3a"/>
<rect x="625.8" y="634.75" width="7.48" height="0.13" fill="#8a8f98"/>
<rect x="633.68" y="619.71" width="7.48" height="33.09" fill="#5fb900"/>
<rect x="633.68" y="619.46" width="7.48" height="0.25" fill="#8a8f98"/>
<rect x="633.68" y="619.21" width="7.48" height="0.25" fill="#d9602a"/>
<polygon points="77.94,652.8 77.94,652.8 85.82,611.43 93.7,614.19 101.58,466.03 109.46,621.71 117.34,606.67 125.22,637.76 133.1,613.44 140.98,615.7 148.86,466.53 156.74,622.47 164.62,603.91 172.5,635.5 180.38,612.44 188.26,616.2 196.14,466.53 204.02,622.47 211.9,605.92 219.78,638.26 227.66,613.44 235.54,616.2 243.42,466.53 251.3,639.26 259.18,590.63 267.06,640.01 274.94,613.44 282.82,616.95 290.7,466.53 298.58,639.26 306.46,590.63 314.34,636.5 322.22,613.44 330.1,612.94 337.98,466.53 345.86,643.27 353.74,584.61 361.62,637.76 369.5,613.44 377.38,616.2 385.26,478.31 393.14,630.99 401.02,609.18 408.9,616.95 416.78,622.47 424.66,607.42 432.54,481.07 440.42,629.48 448.3,609.18 456.18,615.7 464.06,621.71 471.94,616.95 479.82,470.04 487.7,634.5 495.58,620.46 503.46,600.4 511.34,622.47 519.22,618.45 527.1,470.04 534.98,635 542.86,619.71 550.74,601.16 558.62,622.47 566.5,617.2 574.38,467.78 582.26,634.5 590.14,618.96 598.02,598.9 605.9,621.21 613.78,617.2 621.66,467.78 629.54,634.5 637.42,618.96 637.42,652.8" fill="#19c2ff" fill-opacity="0.5"/>
<polyline points="77.94,652.8 85.82,611.43 93.7,614.19 101.58,466.03 109.46,621.71 117.34,606.67 125.22,637.76 133.1,613.44 140.98,615.7 148.86,466.53 156.74,622.47 164.62,603.91 172.5,635.5 180.38,612.44 188.26,616.2 196.14,466.53 204.02,622.47 211.9,605.92 219.78,638.26 227.66,613.44 235.54,616.2 243.42,466.53 251.3,639.26 259.18,590.63 267.06,640.01 274.94,613.44 282.82,616.95 290.7,466.53 298.58,639.26 306.46,590.63 314.34,636.5 322.22,613.44 330.1,612.94 337.98,466.53 345.86,643.27 353.74,584.61 361.62,637.76 369.5,613.44 377.38,616.2 385.26,478.31 393.14,630.99 401.02,609.18 408.9,616.95 416.78,622.47 424.66,607.42 432.54,481.07 440.42,629.48 448.3,609.18 456.18,615.7 464.06,621.71 471.94,616.95 479.82,470.04 487.7,634.5 495.58,620.46 503.46,600.4 511.34,622.47 519.22,618.45 527.1,470.04 534.98,635 542.86,619.71 550.74,601.16 558.62,622.47 566.5,617.2 574.38,467.78 582.26,634.5 590.14,618.96 598.02,598.9 605.9,621.21 613.78,617.2 621.66,467.78 629.54,634.5 637.42,618.96" fill="none" stroke="#19c2ff" stroke-width="2.0" stroke-linejoin="round" stroke-linecap="round"/>
<rect x="637.42" y="619.71" width="3.74" height="33.09" fill="#78c63a"/>
<text x="357" y="700.1" text-anchor="middle" class="xt">per 5 minutes</text>
<line x1="1009" x2="1576.3" y1="652.8" y2="652.8" stroke="#20252c" stroke-width="1"/>
<line x1="999" x2="1009" y1="652.8" y2="652.8" stroke="#383c42" stroke-width="1"/>
<line x1="1576.3" x2="1586.3" y1="652.8" y2="652.8" stroke="#383c42" stroke-width="1"/>
<text x="988.5" y="656.3" text-anchor="end" class="ax">0p/s</text>
<text x="1596" y="656.3" class="ax">0p/s</text>
<line x1="1009" x2="1576.3" y1="627.73" y2="627.73" stroke="#20252c" stroke-width="1"/>
<line x1="999" x2="1009" y1="627.73" y2="627.73" stroke="#383c42" stroke-width="1"/>
<line x1="1576.3" x2="1586.3" y1="627.73" y2="627.73" stroke="#383c42" stroke-width="1"/>
<text x="988.5" y="631.23" text-anchor="end" class="ax">100kp/s</text>
<text x="1596" y="631.23" class="ax">100kp/s</text>
<line x1="1009" x2="1576.3" y1="602.66" y2="602.66" stroke="#20252c" stroke-width="1"/>
<line x1="999" x2="1009" y1="602.66" y2="602.66" stroke="#383c42" stroke-width="1"/>
<line x1="1576.3" x2="1586.3" y1="602.66" y2="602.66" stroke="#383c42" stroke-width="1"/>
<text x="988.5" y="606.16" text-anchor="end" class="ax">200kp/s</text>
<text x="1596" y="606.16" class="ax">200kp/s</text>
<line x1="1009" x2="1576.3" y1="577.59" y2="577.59" stroke="#20252c" stroke-width="1"/>
<line x1="999" x2="1009" y1="577.59" y2="577.59" stroke="#383c42" stroke-width="1"/>
<line x1="1576.3" x2="1586.3" y1="577.59" y2="577.59" stroke="#383c42" stroke-width="1"/>
<text x="988.5" y="581.09" text-anchor="end" class="ax">300kp/s</text>
<text x="1596" y="581.09" class="ax">300kp/s</text>
<line x1="1009" x2="1576.3" y1="552.52" y2="552.52" stroke="#20252c" stroke-width="1"/>
<line x1="999" x2="1009" y1="552.52" y2="552.52" stroke="#383c42" stroke-width="1"/>
<line x1="1576.3" x2="1586.3" y1="552.52" y2="552.52" stroke="#383c42" stroke-width="1"/>
<text x="988.5" y="556.02" text-anchor="end" class="ax">400kp/s</text>
<text x="1596" y="556.02" class="ax">400kp/s</text>
<line x1="1009" x2="1576.3" y1="527.45" y2="527.45" stroke="#20252c" stroke-width="1"/>
<line x1="999" x2="1009" y1="527.45" y2="527.45" stroke="#383c42" stroke-width="1"/>
<line x1="1576.3" x2="1586.3" y1="527.45" y2="527.45" stroke="#383c42" stroke-width="1"/>
<text x="988.5" y="530.95" text-anchor="end" class="ax">500kp/s</text>
<text x="1596" y="530.95" class="ax">500kp/s</text>
<line x1="1009" x2="1576.3" y1="502.38" y2="502.38" stroke="#20252c" stroke-width="1"/>
<line x1="999" x2="1009" y1="502.38" y2="502.38" stroke="#383c42" stroke-width="1"/>
<line x1="1576.3" x2="1586.3" y1="502.38" y2="502.38" stroke="#383c42" stroke-width="1"/>
<text x="988.5" y="505.88" text-anchor="end" class="ax">600kp/s</text>
<text x="1596" y="505.88" class="ax">600kp/s</text>
<line x1="1009" x2="1576.3" y1="477.31" y2="477.31" stroke="#20252c" stroke-width="1"/>
<line x1="999" x2="1009" y1="477.31" y2="477.31" stroke="#383c42" stroke-width="1"/>
<line x1="1576.3" x2="1586.3" y1="477.31" y2="477.31" stroke="#383c42" stroke-width="1"/>
<text x="988.5" y="480.81" text-anchor="end" class="ax">700kp/s</text>
<text x="1596" y="480.81" class="ax">700kp/s</text>
<line x1="1032.64" x2="1032.64" y1="466.5" y2="652.8" stroke="#20252c" stroke-width="1"/>
<line x1="1032.64" x2="1032.64" y1="652.8" y2="662.8" stroke="#383c42" stroke-width="1"/>
<text x="1032.64" y="681.6" text-anchor="middle" class="ax">10:00</text>
<line x1="1079.92" x2="1079.92" y1="466.5" y2="652.8" stroke="#20252c" stroke-width="1"/>
<line x1="1079.92" x2="1079.92" y1="652.8" y2="662.8" stroke="#383c42" stroke-width="1"/>
<text x="1079.92" y="681.6" text-anchor="middle" class="ax">10:30</text>
<line x1="1127.2" x2="1127.2" y1="466.5" y2="652.8" stroke="#20252c" stroke-width="1"/>
<line x1="1127.2" x2="1127.2" y1="652.8" y2="662.8" stroke="#383c42" stroke-width="1"/>
<text x="1127.2" y="681.6" text-anchor="middle" class="ax">11:00</text>
<line x1="1174.48" x2="1174.48" y1="466.5" y2="652.8" stroke="#20252c" stroke-width="1"/>
<line x1="1174.48" x2="1174.48" y1="652.8" y2="662.8" stroke="#383c42" stroke-width="1"/>
<text x="1174.48" y="681.6" text-anchor="middle" class="ax">11:30</text>
<line x1="1221.76" x2="1221.76" y1="466.5" y2="652.8" stroke="#20252c" stroke-width="1"/>
<line x1="1221.76" x2="1221.76" y1="652.8" y2="662.8" stroke="#383c42" stroke-width="1"/>
<text x="1221.76" y="681.6" text-anchor="middle" class="ax">12:00</text>
<line x1="1269.04" x2="1269.04" y1="466.5" y2="652.8" stroke="#20252c" stroke-width="1"/>
<line x1="1269.04" x2="1269.04" y1="652.8" y2="662.8" stroke="#383c42" stroke-width="1"/>
<text x="1269.04" y="681.6" text-anchor="middle" class="ax">12:30</text>
<line x1="1316.32" x2="1316.32" y1="466.5" y2="652.8" stroke="#20252c" stroke-width="1"/>
<line x1="1316.32" x2="1316.32" y1="652.8" y2="662.8" stroke="#383c42" stroke-width="1"/>
<text x="1316.32" y="681.6" text-anchor="middle" class="ax">13:00</text>
<line x1="1363.6" x2="1363.6" y1="466.5" y2="652.8" stroke="#20252c" stroke-width="1"/>
<line x1="1363.6" x2="1363.6" y1="652.8" y2="662.8" stroke="#383c42" stroke-width="1"/>
<text x="1363.6" y="681.6" text-anchor="middle" class="ax">13:30</text>
<line x1="1410.88" x2="1410.88" y1="466.5" y2="652.8" stroke="#20252c" stroke-width="1"/>
<line x1="1410.88" x2="1410.88" y1="652.8" y2="662.8" stroke="#383c42" stroke-width="1"/>
<text x="1410.88" y="681.6" text-anchor="middle" class="ax">14:00</text>
<line x1="1458.16" x2="1458.16" y1="466.5" y2="652.8" stroke="#20252c" stroke-width="1"/>
<line x1="1458.16" x2="1458.16" y1="652.8" y2="662.8" stroke="#383c42" stroke-width="1"/>
<text x="1458.16" y="681.6" text-anchor="middle" class="ax">14:30</text>
<line x1="1505.44" x2="1505.44" y1="466.5" y2="652.8" stroke="#20252c" stroke-width="1"/>
<line x1="1505.44" x2="1505.44" y1="652.8" y2="662.8" stroke="#383c42" stroke-width="1"/>
<text x="1505.44" y="681.6" text-anchor="middle" class="ax">15:00</text>
<line x1="1552.72" x2="1552.72" y1="466.5" y2="652.8" stroke="#20252c" stroke-width="1"/>
<line x1="1552.72" x2="1552.72" y1="652.8" y2="662.8" stroke="#383c42" stroke-width="1"/>
<text x="1552.72" y="681.6" text-anchor="middle" class="ax">15:30</text>
<line x1="1009" x2="1009" y1="466.5" y2="652.8" stroke="#383c42" stroke-width="1"/>
<line x1="1576.3" x2="1576.3" y1="466.5" y2="652.8" stroke="#383c42" stroke-width="1"/>
<rect x="1017.08" y="614.47" width="7.48" height="38.33" fill="#5fb900"/>
<rect x="1017.08" y="613.08" width="7.48" height="1.39" fill="#d6d23a"/>
<rect x="1017.08" y="611.69" width="7.48" height="1.39" fill="#8a8f98"/>
<rect x="1024.96" y="615.3" width="7.48" height="37.5" fill="#5fb900"/>
<rect x="1024.96" y="614.87" width="7.48" height="0.43" fill="#8a8f98"/>
<rect x="1024.96" y="614.44" width="7.48" height="0.43" fill="#c9cf3a"/>
<rect x="1032.84" y="466.3" width="7.48" height="186.5" fill="#5fb900"/>
<rect x="1032.84" y="466.29" width="7.48" height="0.01" fill="#c9cf3a"/>
<rect x="1032.84" y="466.28" width="7.48" height="0.01" fill="#d6d23a"/>
<rect x="1040.72" y="622.68" width="7.48" height="30.12" fill="#5fb900"/>
<rect x="1040.72" y="622.32" width="7.48" height="0.36" fill="#d6d23a"/>
<rect x="1040.72" y="621.96" width="7.48" height="0.36" fill="#8a8f98"/>
<rect x="1048.6" y="607.08" width="7.48" height="45.72" fill="#5fb900"/>
<rect x="1048.6" y="607" width="7.48" height="0.08" fill="#8a8f98"/>
<rect x="1048.6" y="606.92" width="7.48" height="0.08" fill="#c9cf3a"/>
<rect x="1056.48" y="639.27" width="7.48" height="13.53" fill="#5fb900"/>
<rect x="1056.48" y="638.64" width="7.48" height="0.63" fill="#c9cf3a"/>
<rect x="1056.48" y="638.01" width="7.48" height="0.63" fill="#d6d23a"/>
<rect x="1064.36" y="616.2" width="7.48" height="36.6" fill="#5fb900"/>
<rect x="1064.36" y="614.94" width="7.48" height="1.25" fill="#d6d23a"/>
<rect x="1064.36" y="613.69" width="7.48" height="1.25" fill="#8a8f98"/>
<rect x="1072.24" y="616.8" width="7.48" height="36" fill="#5fb900"/>
<rect x="1072.24" y="616.37" width="7.48" height="0.43" fill="#8a8f98"/>
<rect x="1072.24" y="615.95" width="7.48" height="0.43" fill="#c9cf3a"/>
<rect x="1080.12" y="466.94" width="7.48" height="185.86" fill="#5fb900"/>
<rect x="1080.12" y="466.86" width="7.48" height="0.08" fill="#c9cf3a"/>
<rect x="1080.12" y="466.78" width="7.48" height="0.08" fill="#d6d23a"/>
<rect x="1088" y="623.29" width="7.48" height="29.51" fill="#5fb900"/>
<rect x="1088" y="623" width="7.48" height="0.29" fill="#d6d23a"/>
<rect x="1088" y="622.72" width="7.48" height="0.29" fill="#8a8f98"/>
<rect x="1095.88" y="604.33" width="7.48" height="48.47" fill="#5fb900"/>
<rect x="1095.88" y="604.25" width="7.48" height="0.08" fill="#8a8f98"/>
<rect x="1095.88" y="604.16" width="7.48" height="0.08" fill="#c9cf3a"/>
<rect x="1103.76" y="637.02" width="7.48" height="15.78" fill="#5fb900"/>
<rect x="1103.76" y="636.39" width="7.48" height="0.63" fill="#c9cf3a"/>
<rect x="1103.76" y="635.75" width="7.48" height="0.63" fill="#d6d23a"/>
<rect x="1111.64" y="615.33" width="7.48" height="37.47" fill="#5fb900"/>
<rect x="1111.64" y="614.01" width="7.48" height="1.32" fill="#d6d23a"/>
<rect x="1111.64" y="612.69" width="7.48" height="1.32" fill="#8a8f98"/>
<rect x="1119.52" y="617.44" width="7.48" height="35.36" fill="#5fb900"/>
<rect x="1119.52" y="616.94" width="7.48" height="0.5" fill="#8a8f98"/>
<rect x="1119.52" y="616.45" width="7.48" height="0.5" fill="#c9cf3a"/>
<rect x="1127.4" y="466.94" width="7.48" height="185.86" fill="#5fb900"/>
<rect x="1127.4" y="466.86" width="7.48" height="0.08" fill="#c9cf3a"/>
<rect x="1127.4" y="466.78" width="7.48" height="0.08" fill="#d6d23a"/>
<rect x="1135.28" y="623.29" width="7.48" height="29.51" fill="#5fb900"/>
<rect x="1135.28" y="623" width="7.48" height="0.29" fill="#d6d23a"/>
<rect x="1135.28" y="622.72" width="7.48" height="0.29" fill="#8a8f98"/>
<rect x="1143.16" y="606.33" width="7.48" height="46.47" fill="#5fb900"/>
<rect x="1143.16" y="606.25" width="7.48" height="0.08" fill="#8a8f98"/>
<rect x="1143.16" y="606.17" width="7.48" height="0.08" fill="#c9cf3a"/>
<rect x="1151.04" y="639.91" width="7.48" height="12.89" fill="#5fb900"/>
<rect x="1151.04" y="639.21" width="7.48" height="0.7" fill="#c9cf3a"/>
<rect x="1151.04" y="638.51" width="7.48" height="0.7" fill="#d6d23a"/>
<rect x="1158.92" y="616.2" width="7.48" height="36.6" fill="#5fb900"/>
<rect x="1158.92" y="614.94" width="7.48" height="1.25" fill="#d6d23a"/>
<rect x="1158.92" y="613.69" width="7.48" height="1.25" fill="#8a8f98"/>
<rect x="1166.8" y="617.16" width="7.48" height="35.64" fill="#5fb900"/>
<rect x="1166.8" y="616.81" width="7.48" height="0.36" fill="#8a8f98"/>
<rect x="1166.8" y="616.45" width="7.48" height="0.36" fill="#c9cf3a"/>
<rect x="1174.68" y="466.94" width="7.48" height="185.86" fill="#5fb900"/>
<rect x="1174.68" y="466.86" width="7.48" height="0.08" fill="#c9cf3a"/>
<rect x="1174.68" y="466.78" width="7.48" height="0.08" fill="#d6d23a"/>
<rect x="1182.56" y="640.37" width="7.48" height="12.43" fill="#5fb900"/>
<rect x="1182.56" y="639.94" width="7.48" height="0.43" fill="#d6d23a"/>
<rect x="1182.56" y="639.51" width="7.48" height="0.43" fill="#8a8f98"/>
<rect x="1190.44" y="590.9" width="7.48" height="61.9" fill="#5fb900"/>
<rect x="1190.44" y="590.89" width="7.48" height="0.01" fill="#8a8f98"/>
<rect x="1190.44" y="590.88" width="7.48" height="0.01" fill="#c9cf3a"/>
<rect x="1198.32" y="641.12" width="7.48" height="11.68" fill="#5fb900"/>
<rect x="1198.32" y="640.69" width="7.48" height="0.43" fill="#c9cf3a"/>
<rect x="1198.32" y="640.26" width="7.48" height="0.43" fill="#d6d23a"/>
<rect x="1206.2" y="616.47" width="7.48" height="36.33" fill="#5fb900"/>
<rect x="1206.2" y="615.08" width="7.48" height="1.39" fill="#d6d23a"/>
<rect x="1206.2" y="613.69" width="7.48" height="1.39" fill="#8a8f98"/>
<rect x="1214.08" y="617.78" width="7.48" height="35.02" fill="#5fb900"/>
<rect x="1214.08" y="617.49" width="7.48" height="0.29" fill="#8a8f98"/>
<rect x="1214.08" y="617.2" width="7.48" height="0.29" fill="#c9cf3a"/>
<rect x="1221.96" y="466.94" width="7.48" height="185.86" fill="#5fb900"/>
<rect x="1221.96" y="466.86" width="7.48" height="0.08" fill="#c9cf3a"/>
<rect x="1221.96" y="466.78" width="7.48" height="0.08" fill="#d6d23a"/>
<rect x="1229.84" y="639.95" width="7.48" height="12.85" fill="#5fb900"/>
<rect x="1229.84" y="639.73" width="7.48" height="0.22" fill="#d6d23a"/>
<rect x="1229.84" y="639.51" width="7.48" height="0.22" fill="#8a8f98"/>
<rect x="1237.72" y="590.9" width="7.48" height="61.9" fill="#5fb900"/>
<rect x="1237.72" y="590.89" width="7.48" height="0.01" fill="#8a8f98"/>
<rect x="1237.72" y="590.88" width="7.48" height="0.01" fill="#c9cf3a"/>
<rect x="1245.6" y="637.47" width="7.48" height="15.33" fill="#5fb900"/>
<rect x="1245.6" y="637.11" width="7.48" height="0.36" fill="#c9cf3a"/>
<rect x="1245.6" y="636.76" width="7.48" height="0.36" fill="#d6d23a"/>
<rect x="1253.48" y="616.47" width="7.48" height="36.33" fill="#5fb900"/>
<rect x="1253.48" y="615.08" width="7.48" height="1.39" fill="#d6d23a"/>
<rect x="1253.48" y="613.69" width="7.48" height="1.39" fill="#8a8f98"/>
<rect x="1261.36" y="613.63" width="7.48" height="39.17" fill="#5fb900"/>
<rect x="1261.36" y="613.41" width="7.48" height="0.22" fill="#8a8f98"/>
<rect x="1261.36" y="613.19" width="7.48" height="0.22" fill="#c9cf3a"/>
<rect x="1269.24" y="466.94" width="7.48" height="185.86" fill="#5fb900"/>
<rect x="1269.24" y="466.86" width="7.48" height="0.08" fill="#c9cf3a"/>
<rect x="1269.24" y="466.78" width="7.48" height="0.08" fill="#d6d23a"/>
<rect x="1277.12" y="644.51" width="7.48" height="8.29" fill="#5fb900"/>
<rect x="1277.12" y="644.02" width="7.48" height="0.5" fill="#d6d23a"/>
<rect x="1277.12" y="643.52" width="7.48" height="0.5" fill="#8a8f98"/>
<rect x="1285" y="584.89" width="7.48" height="67.91" fill="#5fb900"/>
<rect x="1285" y="584.87" width="7.48" height="0.01" fill="#8a8f98"/>
<rect x="1285" y="584.86" width="7.48" height="0.01" fill="#c9cf3a"/>
<rect x="1292.88" y="639.27" width="7.48" height="13.53" fill="#5fb900"/>
<rect x="1292.88" y="638.64" width="7.48" height="0.63" fill="#c9cf3a"/>
<rect x="1292.88" y="638.01" width="7.48" height="0.63" fill="#d6d23a"/>
<rect x="1300.76" y="616.47" width="7.48" height="36.33" fill="#5fb900"/>
<rect x="1300.76" y="615.08" width="7.48" height="1.39" fill="#d6d23a"/>
<rect x="1300.76" y="613.69" width="7.48" height="1.39" fill="#8a8f98"/>
<rect x="1308.64" y="617.44" width="7.48" height="35.36" fill="#5fb900"/>
<rect x="1308.64" y="616.94" width="7.48" height="0.5" fill="#8a8f98"/>
<rect x="1308.64" y="616.45" width="7.48" height="0.5" fill="#c9cf3a"/>
<rect x="1316.52" y="478.86" width="7.48" height="173.94" fill="#5fb900"/>
<rect x="1316.52" y="478.71" width="7.48" height="0.15" fill="#c9cf3a"/>
<rect x="1316.52" y="478.56" width="7.48" height="0.15" fill="#d6d23a"/>
<rect x="1324.4" y="632.51" width="7.48" height="20.29" fill="#5fb900"/>
<rect x="1324.4" y="631.87" width="7.48" height="0.63" fill="#d6d23a"/>
<rect x="1324.4" y="631.24" width="7.48" height="0.63" fill="#8a8f98"/>
<rect x="1332.28" y="609.73" width="7.48" height="43.07" fill="#5fb900"/>
<rect x="1332.28" y="609.58" width="7.48" height="0.15" fill="#8a8f98"/>
<rect x="1332.28" y="609.43" width="7.48" height="0.15" fill="#c9cf3a"/>
<rect x="1340.16" y="617.78" width="7.48" height="35.02" fill="#5fb900"/>
<rect x="1340.16" y="617.49" width="7.48" height="0.29" fill="#c9cf3a"/>
<rect x="1340.16" y="617.2" width="7.48" height="0.29" fill="#d6d23a"/>
<rect x="1348.04" y="625.64" width="7.48" height="27.16" fill="#5fb900"/>
<rect x="1348.04" y="624.18" width="7.48" height="1.46" fill="#d6d23a"/>
<rect x="1348.04" y="622.72" width="7.48" height="1.46" fill="#8a8f98"/>
<rect x="1355.92" y="607.7" width="7.48" height="45.1" fill="#5fb900"/>
<rect x="1355.92" y="607.69" width="7.48" height="0.01" fill="#8a8f98"/>
<rect x="1355.92" y="607.67" width="7.48" height="0.01" fill="#c9cf3a"/>
<rect x="1363.8" y="481.62" width="7.48" height="171.18" fill="#5fb900"/>
<rect x="1363.8" y="481.47" width="7.48" height="0.15" fill="#c9cf3a"/>
<rect x="1363.8" y="481.32" width="7.48" height="0.15" fill="#d6d23a"/>
<rect x="1371.68" y="630.31" width="7.48" height="22.49" fill="#5fb900"/>
<rect x="1371.68" y="630.02" width="7.48" height="0.29" fill="#d6d23a"/>
<rect x="1371.68" y="629.74" width="7.48" height="0.29" fill="#8a8f98"/>
<rect x="1379.56" y="609.73" width="7.48" height="43.07" fill="#5fb900"/>
<rect x="1379.56" y="609.58" width="7.48" height="0.15" fill="#8a8f98"/>
<rect x="1379.56" y="609.43" width="7.48" height="0.15" fill="#c9cf3a"/>
<rect x="1387.44" y="617.21" width="7.48" height="35.59" fill="#5fb900"/>
<rect x="1387.44" y="616.58" width="7.48" height="0.63" fill="#c9cf3a"/>
<rect x="1387.44" y="615.95" width="7.48" height="0.63" fill="#d6d23a"/>
<rect x="1395.32" y="625.3" width="7.48" height="27.5" fill="#5fb900"/>
<rect x="1395.32" y="623.63" width="7.48" height="1.67" fill="#d6d23a"/>
<rect x="1395.32" y="621.96" width="7.48" height="1.67" fill="#8a8f98"/>
<rect x="1403.2" y="617.5" width="7.48" height="35.3" fill="#5fb900"/>
<rect x="1403.2" y="617.35" width="7.48" height="0.15" fill="#8a8f98"/>
<rect x="1403.2" y="617.2" width="7.48" height="0.15" fill="#c9cf3a"/>
<rect x="1411.08" y="470.45" width="7.48" height="182.35" fill="#5fb900"/>
<rect x="1411.08" y="470.37" width="7.48" height="0.08" fill="#c9cf3a"/>
<rect x="1411.08" y="470.29" width="7.48" height="0.08" fill="#d6d23a"/>
<rect x="1418.96" y="635.05" width="7.48" height="17.75" fill="#5fb900"/>
<rect x="1418.96" y="634.9" width="7.48" height="0.15" fill="#d6d23a"/>
<rect x="1418.96" y="634.75" width="7.48" height="0.15" fill="#8a8f98"/>
<rect x="1426.84" y="620.87" width="7.48" height="31.93" fill="#5fb900"/>
<rect x="1426.84" y="620.79" width="7.48" height="0.08" fill="#8a8f98"/>
<rect x="1426.84" y="620.71" width="7.48" height="0.08" fill="#c9cf3a"/>
<rect x="1434.72" y="600.82" width="7.48" height="51.98" fill="#5fb900"/>
<rect x="1434.72" y="600.74" width="7.48" height="0.08" fill="#c9cf3a"/>
<rect x="1434.72" y="600.65" width="7.48" height="0.08" fill="#d6d23a"/>
<rect x="1442.6" y="626.05" width="7.48" height="26.75" fill="#5fb900"/>
<rect x="1442.6" y="624.38" width="7.48" height="1.67" fill="#d6d23a"/>
<rect x="1442.6" y="622.72" width="7.48" height="1.67" fill="#8a8f98"/>
<rect x="1450.48" y="618.73" width="7.48" height="34.07" fill="#5fb900"/>
<rect x="1450.48" y="618.72" width="7.48" height="0.01" fill="#8a8f98"/>
<rect x="1450.48" y="618.7" width="7.48" height="0.01" fill="#c9cf3a"/>
<rect x="1458.36" y="470.45" width="7.48" height="182.35" fill="#5fb900"/>
<rect x="1458.36" y="470.37" width="7.48" height="0.08" fill="#c9cf3a"/>
<rect x="1458.36" y="470.29" width="7.48" height="0.08" fill="#d6d23a"/>
<rect x="1466.24" y="635.83" width="7.48" height="16.97" fill="#5fb900"/>
<rect x="1466.24" y="635.54" width="7.48" height="0.29" fill="#d6d23a"/>
<rect x="1466.24" y="635.25" width="7.48" height="0.29" fill="#8a8f98"/>
<rect x="1474.12" y="620.26" width="7.48" height="32.54" fill="#5fb900"/>
<rect x="1474.12" y="620.11" width="7.48" height="0.15" fill="#8a8f98"/>
<rect x="1474.12" y="619.96" width="7.48" height="0.15" fill="#c9cf3a"/>
<rect x="1482" y="601.85" width="7.48" height="50.95" fill="#5fb900"/>
<rect x="1482" y="601.63" width="7.48" height="0.22" fill="#c9cf3a"/>
<rect x="1482" y="601.41" width="7.48" height="0.22" fill="#d6d23a"/>
<rect x="1489.88" y="626.05" width="7.48" height="26.75" fill="#5fb900"/>
<rect x="1489.88" y="624.38" width="7.48" height="1.67" fill="#d6d23a"/>
<rect x="1489.88" y="622.72" width="7.48" height="1.67" fill="#8a8f98"/>
<rect x="1497.76" y="617.61" width="7.48" height="35.19" fill="#5fb900"/>
<rect x="1497.76" y="617.53" width="7.48" height="0.08" fill="#8a8f98"/>
<rect x="1497.76" y="617.45" width="7.48" height="0.08" fill="#c9cf3a"/>
<rect x="1505.64" y="468.2" width="7.48" height="184.6" fill="#5fb900"/>
<rect x="1505.64" y="468.12" width="7.48" height="0.08" fill="#c9cf3a"/>
<rect x="1505.64" y="468.03" width="7.48" height="0.08" fill="#d6d23a"/>
<rect x="1513.52" y="634.77" width="7.48" height="18.03" fill="#5fb900"/>
<rect x="1513.52" y="634.76" width="7.48" height="0.01" fill="#d6d23a"/>
<rect x="1513.52" y="634.75" width="7.48" height="0.01" fill="#8a8f98"/>
<rect x="1521.4" y="619.37" width="7.48" height="33.43" fill="#5fb900"/>
<rect x="1521.4" y="619.29" width="7.48" height="0.08" fill="#8a8f98"/>
<rect x="1521.4" y="619.21" width="7.48" height="0.08" fill="#c9cf3a"/>
<rect x="1529.28" y="599.73" width="7.48" height="53.07" fill="#5fb900"/>
<rect x="1529.28" y="599.44" width="7.48" height="0.29" fill="#c9cf3a"/>
<rect x="1529.28" y="599.15" width="7.48" height="0.29" fill="#d6d23a"/>
<rect x="1537.16" y="625.07" width="7.48" height="27.73" fill="#5fb900"/>
<rect x="1537.16" y="621.96" width="7.48" height="3.11" fill="#35b4f0"/>
<rect x="1537.16" y="621.71" width="7.48" height="0.25" fill="#d6d23a"/>
<rect x="1537.16" y="621.46" width="7.48" height="0.25" fill="#8a8f98"/>
<rect x="1545.04" y="617.61" width="7.48" height="35.19" fill="#5fb900"/>
<rect x="1545.04" y="617.53" width="7.48" height="0.08" fill="#8a8f98"/>
<rect x="1545.04" y="617.45" width="7.48" height="0.08" fill="#c9cf3a"/>
<rect x="1552.92" y="468.2" width="7.48" height="184.6" fill="#5fb900"/>
<rect x="1552.92" y="468.12" width="7.48" height="0.08" fill="#c9cf3a"/>
<rect x="1552.92" y="468.03" width="7.48" height="0.08" fill="#d6d23a"/>
<rect x="1560.8" y="634.77" width="7.48" height="18.03" fill="#5fb900"/>
<rect x="1560.8" y="634.76" width="7.48" height="0.01" fill="#d6d23a"/>
<rect x="1560.8" y="634.75" width="7.48" height="0.01" fill="#8a8f98"/>
<rect x="1568.68" y="619.37" width="7.48" height="33.43" fill="#5fb900"/>
<rect x="1568.68" y="619.29" width="7.48" height="0.08" fill="#8a8f98"/>
<rect x="1568.68" y="619.21" width="7.48" height="0.08" fill="#c9cf3a"/>
<polygon points="1012.94,652.8 1012.94,652.8 1020.82,611.43 1028.7,614.19 1036.58,466.03 1044.46,621.71 1052.34,606.67 1060.22,637.76 1068.1,613.44 1075.98,615.7 1083.86,466.53 1091.74,622.47 1099.62,603.91 1107.5,635.5 1115.38,612.44 1123.26,616.2 1131.14,466.53 1139.02,622.47 1146.9,605.92 1154.78,638.26 1162.66,613.44 1170.54,616.2 1178.42,466.53 1186.3,639.26 1194.18,590.63 1202.06,640.01 1209.94,613.44 1217.82,616.95 1225.7,466.53 1233.58,639.26 1241.46,590.63 1249.34,636.5 1257.22,613.44 1265.1,612.94 1272.98,466.53 1280.86,643.27 1288.74,584.61 1296.62,637.76 1304.5,613.44 1312.38,616.2 1320.26,478.31 1328.14,630.99 1336.02,609.18 1343.9,616.95 1351.78,622.47 1359.66,607.42 1367.54,481.07 1375.42,629.48 1383.3,609.18 1391.18,615.7 1399.06,621.71 1406.94,616.95 1414.82,470.04 1422.7,634.5 1430.58,620.46 1438.46,600.4 1446.34,622.47 1454.22,618.45 1462.1,470.04 1469.98,635 1477.86,619.71 1485.74,601.16 1493.62,622.47 1501.5,617.2 1509.38,467.78 1517.26,634.5 1525.14,618.96 1533.02,598.9 1540.9,621.21 1548.78,617.2 1556.66,467.78 1564.54,634.5 1572.42,618.96 1572.42,652.8" fill="#19c2ff" fill-opacity="0.5"/>
<polyline points="1012.94,652.8 1020.82,611.43 1028.7,614.19 1036.58,466.03 1044.46,621.71 1052.34,606.67 1060.22,637.76 1068.1,613.44 1075.98,615.7 1083.86,466.53 1091.74,622.47 1099.62,603.91 1107.5,635.5 1115.38,612.44 1123.26,616.2 1131.14,466.53 1139.02,622.47 1146.9,605.92 1154.78,638.26 1162.66,613.44 1170.54,616.2 1178.42,466.53 1186.3,639.26 1194.18,590.63 1202.06,640.01 1209.94,613.44 1217.82,616.95 1225.7,466.53 1233.58,639.26 1241.46,590.63 1249.34,636.5 1257.22,613.44 1265.1,612.94 1272.98,466.53 1280.86,643.27 1288.74,584.61 1296.62,637.76 1304.5,613.44 1312.38,616.2 1320.26,478.31 1328.14,630.99 1336.02,609.18 1343.9,616.95 1351.78,622.47 1359.66,607.42 1367.54,481.07 1375.42,629.48 1383.3,609.18 1391.18,615.7 1399.06,621.71 1406.94,616.95 1414.82,470.04 1422.7,634.5 1430.58,620.46 1438.46,600.4 1446.34,622.47 1454.22,618.45 1462.1,470.04 1469.98,635 1477.86,619.71 1485.74,601.16 1493.62,622.47 1501.5,617.2 1509.38,467.78 1517.26,634.5 1525.14,618.96 1533.02,598.9 1540.9,621.21 1548.78,617.2 1556.66,467.78 1564.54,634.5 1572.42,618.96" fill="none" stroke="#19c2ff" stroke-width="2.0" stroke-linejoin="round" stroke-linecap="round"/>
<rect x="1572.42" y="619.71" width="3.74" height="33.09" fill="#78c63a"/>
<text x="1292" y="700.1" text-anchor="middle" class="xt">per 5 minutes</text>
</svg>
<div class="lg" style="left:705px;top:139.5px">
<div class="lr" style="top:4px"><i style="background:#19c2ff"></i><span class="ll" style="transform:scaleX(1.0030)">Throughput</span><span class="lv">289.1Mbit/s</span></div>
<div class="lr" style="top:26px"><i style="background:#e4607f"></i><span class="ll" style="transform:scaleX(0.9545)">INDOSAT Internet Networ…</span><span class="lv"></span></div>
<div class="lr" style="top:48px"><i style="background:#6092c0"></i><span class="ll" style="transform:scaleX(0.9164)">PT Deneva (138115)</span><span class="lv"></span></div>
<div class="lr" style="top:70px"><i style="background:#54b399"></i><span class="ll" style="transform:scaleX(0.8971)">PT IOSYS Media Data (141…</span><span class="lv"></span></div>
<div class="lr" style="top:92px"><i style="background:#777b80"></i><span class="ll" style="transform:scaleX(0.9616)">Zhejiang Taobao …</span><span class="lv">27.9bit/s</span></div>
<div class="lr" style="top:114px"><i style="background:#10151c"></i><span class="ll" style="transform:scaleX(0.8772)">CV. NATANETWO…</span><span class="lv">50.2kbit/s</span></div>
<div class="lr" style="top:136px"><i style="background:#c4209c"></i><span class="ll" style="transform:scaleX(0.9550)">Canonical Group Li…</span><span class="lv">9.6bit/s</span></div>
<div class="lr" style="top:158px"><i style="background:#7a3fa0"></i><span class="ll" style="transform:scaleX(0.9644)">Zoho Corporation Pvt. Ltd …</span><span class="lv"></span></div>
<div class="lr" style="top:180px"><i style="background:#ffa630"></i><span class="ll" style="transform:scaleX(0.8689)">SHOPEE SINGAP…</span><span class="lv">17.5kbit/s</span></div>
<div class="lr" style="top:202px"><i style="background:#d9602a"></i><span class="ll" style="transform:scaleX(0.9776)">Datacamp Limit…</span><span class="lv">10.9kbit/s</span></div>
<div class="lr" style="top:224px"><i style="background:#bd1616"></i><span class="ll" style="transform:scaleX(0.9008)">DNIC-AS-00749 (7…</span><span class="lv">3.3kbit/s</span></div>
<div class="lr" style="top:246px"><i style="background:#0b111a"></i><span class="ll" style="transform:scaleX(0.8650)">Cloudflare, Inc. (1…</span><span class="lv">118.6kbit/s</span></div>
</div>
<div class="sbt" style="left:900.3px;top:143px"></div>
<div class="sau" style="left:899.5px;top:134px"></div>
<div class="sad" style="left:899.5px;top:386px"></div>
<div class="lg" style="left:1640px;top:139.5px">
<div class="lr" style="top:4px"><i style="background:#19c2ff"></i><span class="ll" style="transform:scaleX(1.0030)">Throughput</span><span class="lv">289.1Mbit/s</span></div>
<div class="lr" style="top:26px"><i style="background:#6092c0"></i><span class="ll" style="transform:scaleX(0.8779)">NEWRELIC-AS-1 (…</span><span class="lv">4.2kbit/s</span></div>
<div class="lr" style="top:48px"><i style="background:#6092c0"></i><span class="ll" style="transform:scaleX(0.8879)">ZEN-ECN (21859)</span><span class="lv">2.4kbit/s</span></div>
<div class="lr" style="top:70px"><i style="background:#54b399"></i><span class="ll" style="transform:scaleX(0.9402)">Telegram Messen…</span><span class="lv">8.3kbit/s</span></div>
<div class="lr" style="top:92px"><i style="background:#777b80"></i><span class="ll" style="transform:scaleX(0.9403)">Telegram Messe…</span><span class="lv">10.5kbit/s</span></div>
<div class="lr" style="top:114px"><i style="background:#10151c"></i><span class="ll" style="transform:scaleX(0.8729)">MICROSOFT-COR…</span><span class="lv">5.7kbit/s</span></div>
<div class="lr" style="top:136px"><i style="background:#c4209c"></i><span class="ll" style="transform:scaleX(0.8722)">APPLE-ENGINEER…</span><span class="lv">3.7kbit/s</span></div>
<div class="lr" style="top:158px"><i style="background:#7a3fa0"></i><span class="ll" style="transform:scaleX(0.8815)">AMAZON-AES (1…</span><span class="lv">27.6kbit/s</span></div>
<div class="lr" style="top:180px"><i style="background:#ffa630"></i><span class="ll" style="transform:scaleX(0.8743)">GOOGLE-CLOUD…</span><span class="lv">91.8kbit/s</span></div>
<div class="lr" style="top:202px"><i style="background:#d9602a"></i><span class="ll" style="transform:scaleX(0.9832)">Akamai Internat…</span><span class="lv">93.7kbit/s</span></div>
<div class="lr" style="top:224px"><i style="background:#bd1616"></i><span class="ll" style="transform:scaleX(0.9741)">PT Telekomunik…</span><span class="lv">16.1kbit/s</span></div>
<div class="lr" style="top:246px"><i style="background:#0b111a"></i><span class="ll" style="transform:scaleX(0.8689)">SHOPEE SINGAP…</span><span class="lv">17.5kbit/s</span></div>
</div>
<div class="sbt" style="left:1835.3px;top:143px"></div>
<div class="sau" style="left:1834.5px;top:134px"></div>
<div class="sad" style="left:1834.5px;top:386px"></div>
<div class="lg" style="left:705px;top:459.5px">
<div class="lr" style="top:4px"><i style="background:#19c2ff"></i><span class="ll" style="transform:scaleX(1.0030)">Throughput</span><span class="lv">137kp/s</span></div>
<div class="lr" style="top:26px"><i style="background:#6092c0"></i><span class="ll" style="transform:scaleX(0.9398)">Telegram Messenger I…</span><span class="lv">6p/s</span></div>
<div class="lr" style="top:48px"><i style="background:#e6c0b0"></i><span class="ll" style="transform:scaleX(0.8717)">CV. NATANETWORK S…</span><span class="lv">4p/s</span></div>
<div class="lr" style="top:70px"><i style="background:#54b399"></i><span class="ll" style="transform:scaleX(0.9644)">Canonical Group Limi…</span><span class="lv">0p/s</span></div>
<div class="lr" style="top:92px"><i style="background:#777b80"></i><span class="ll" style="transform:scaleX(0.9716)">Zoho Corporation Pvt.…</span><span class="lv">0p/s</span></div>
<div class="lr" style="top:114px"><i style="background:#10151c"></i><span class="ll" style="transform:scaleX(0.9398)">Telegram Messenger I…</span><span class="lv">7p/s</span></div>
<div class="lr" style="top:136px"><i style="background:#c4209c"></i><span class="ll" style="transform:scaleX(0.8999)">G-Core Labs S.A. (199…</span><span class="lv">2p/s</span></div>
<div class="lr" style="top:158px"><i style="background:#7a3fa0"></i><span class="ll" style="transform:scaleX(0.9652)">Datacamp Limited (60…</span><span class="lv">1p/s</span></div>
<div class="lr" style="top:180px"><i style="background:#ffa630"></i><span class="ll" style="transform:scaleX(0.8708)">OVH SAS (16276)</span><span class="lv">101p/s</span></div>
<div class="lr" style="top:202px"><i style="background:#d9602a"></i><span class="ll" style="transform:scaleX(0.8930)">DNIC-AS-00749 (749)</span><span class="lv">1p/s</span></div>
<div class="lr" style="top:224px"><i style="background:#bd1616"></i><span class="ll" style="transform:scaleX(0.8596)">SHOPEE SINGAPORE …</span><span class="lv">5p/s</span></div>
<div class="lr" style="top:246px"><i style="background:#0b111a"></i><span class="ll" style="transform:scaleX(0.9610)">Cloudflare, Inc. (133…</span><span class="lv">15p/s</span></div>
</div>
<div class="sbt" style="left:900.3px;top:463px"></div>
<div class="sau" style="left:899.5px;top:454px"></div>
<div class="sad" style="left:899.5px;top:706px"></div>
<div class="lg" style="left:1640px;top:459.5px">
<div class="lr" style="top:4px"><i style="background:#19c2ff"></i><span class="ll" style="transform:scaleX(1.0030)">Throughput</span><span class="lv">137kp/s</span></div>
<div class="lr" style="top:26px"><i style="background:#a987d1"></i><span class="ll" style="transform:scaleX(0.9652)">Datacamp Limited (60…</span><span class="lv">1p/s</span></div>
<div class="lr" style="top:48px"><i style="background:#54b399"></i><span class="ll" style="transform:scaleX(0.9644)">Canonical Group Limi…</span><span class="lv">0p/s</span></div>
<div class="lr" style="top:70px"><i style="background:#54b399"></i><span class="ll" style="transform:scaleX(0.8673)">MICROSOFT-CORP-MS…</span><span class="lv">4p/s</span></div>
<div class="lr" style="top:92px"><i style="background:#777b80"></i><span class="ll" style="transform:scaleX(0.9398)">Telegram Messenger I…</span><span class="lv">7p/s</span></div>
<div class="lr" style="top:114px"><i style="background:#10151c"></i><span class="ll" style="transform:scaleX(0.8833)">AMAZON-AES (14618)</span><span class="lv">8p/s</span></div>
<div class="lr" style="top:136px"><i style="background:#c4209c"></i><span class="ll" style="transform:scaleX(0.8999)">G-Core Labs S.A. (199…</span><span class="lv">2p/s</span></div>
<div class="lr" style="top:158px"><i style="background:#7a3fa0"></i><span class="ll" style="transform:scaleX(0.9384)">Telegram Messenger …</span><span class="lv">10p/s</span></div>
<div class="lr" style="top:180px"><i style="background:#ffa630"></i><span class="ll" style="transform:scaleX(0.8596)">SHOPEE SINGAPORE …</span><span class="lv">4p/s</span></div>
<div class="lr" style="top:202px"><i style="background:#d9602a"></i><span class="ll" style="transform:scaleX(0.8930)">DNIC-AS-00749 (749)</span><span class="lv">1p/s</span></div>
<div class="lr" style="top:224px"><i style="background:#bd1616"></i><span class="ll" style="transform:scaleX(0.8708)">OVH SAS (16276)</span><span class="lv">186p/s</span></div>
<div class="lr" style="top:246px"><i style="background:#0b111a"></i><span class="ll" style="transform:scaleX(0.9610)">Cloudflare, Inc. (133…</span><span class="lv">22p/s</span></div>
</div>
<div class="sbt" style="left:1835.3px;top:463px"></div>
<div class="sau" style="left:1834.5px;top:454px"></div>
<div class="sad" style="left:1834.5px;top:706px"></div>
</div></body></html>
